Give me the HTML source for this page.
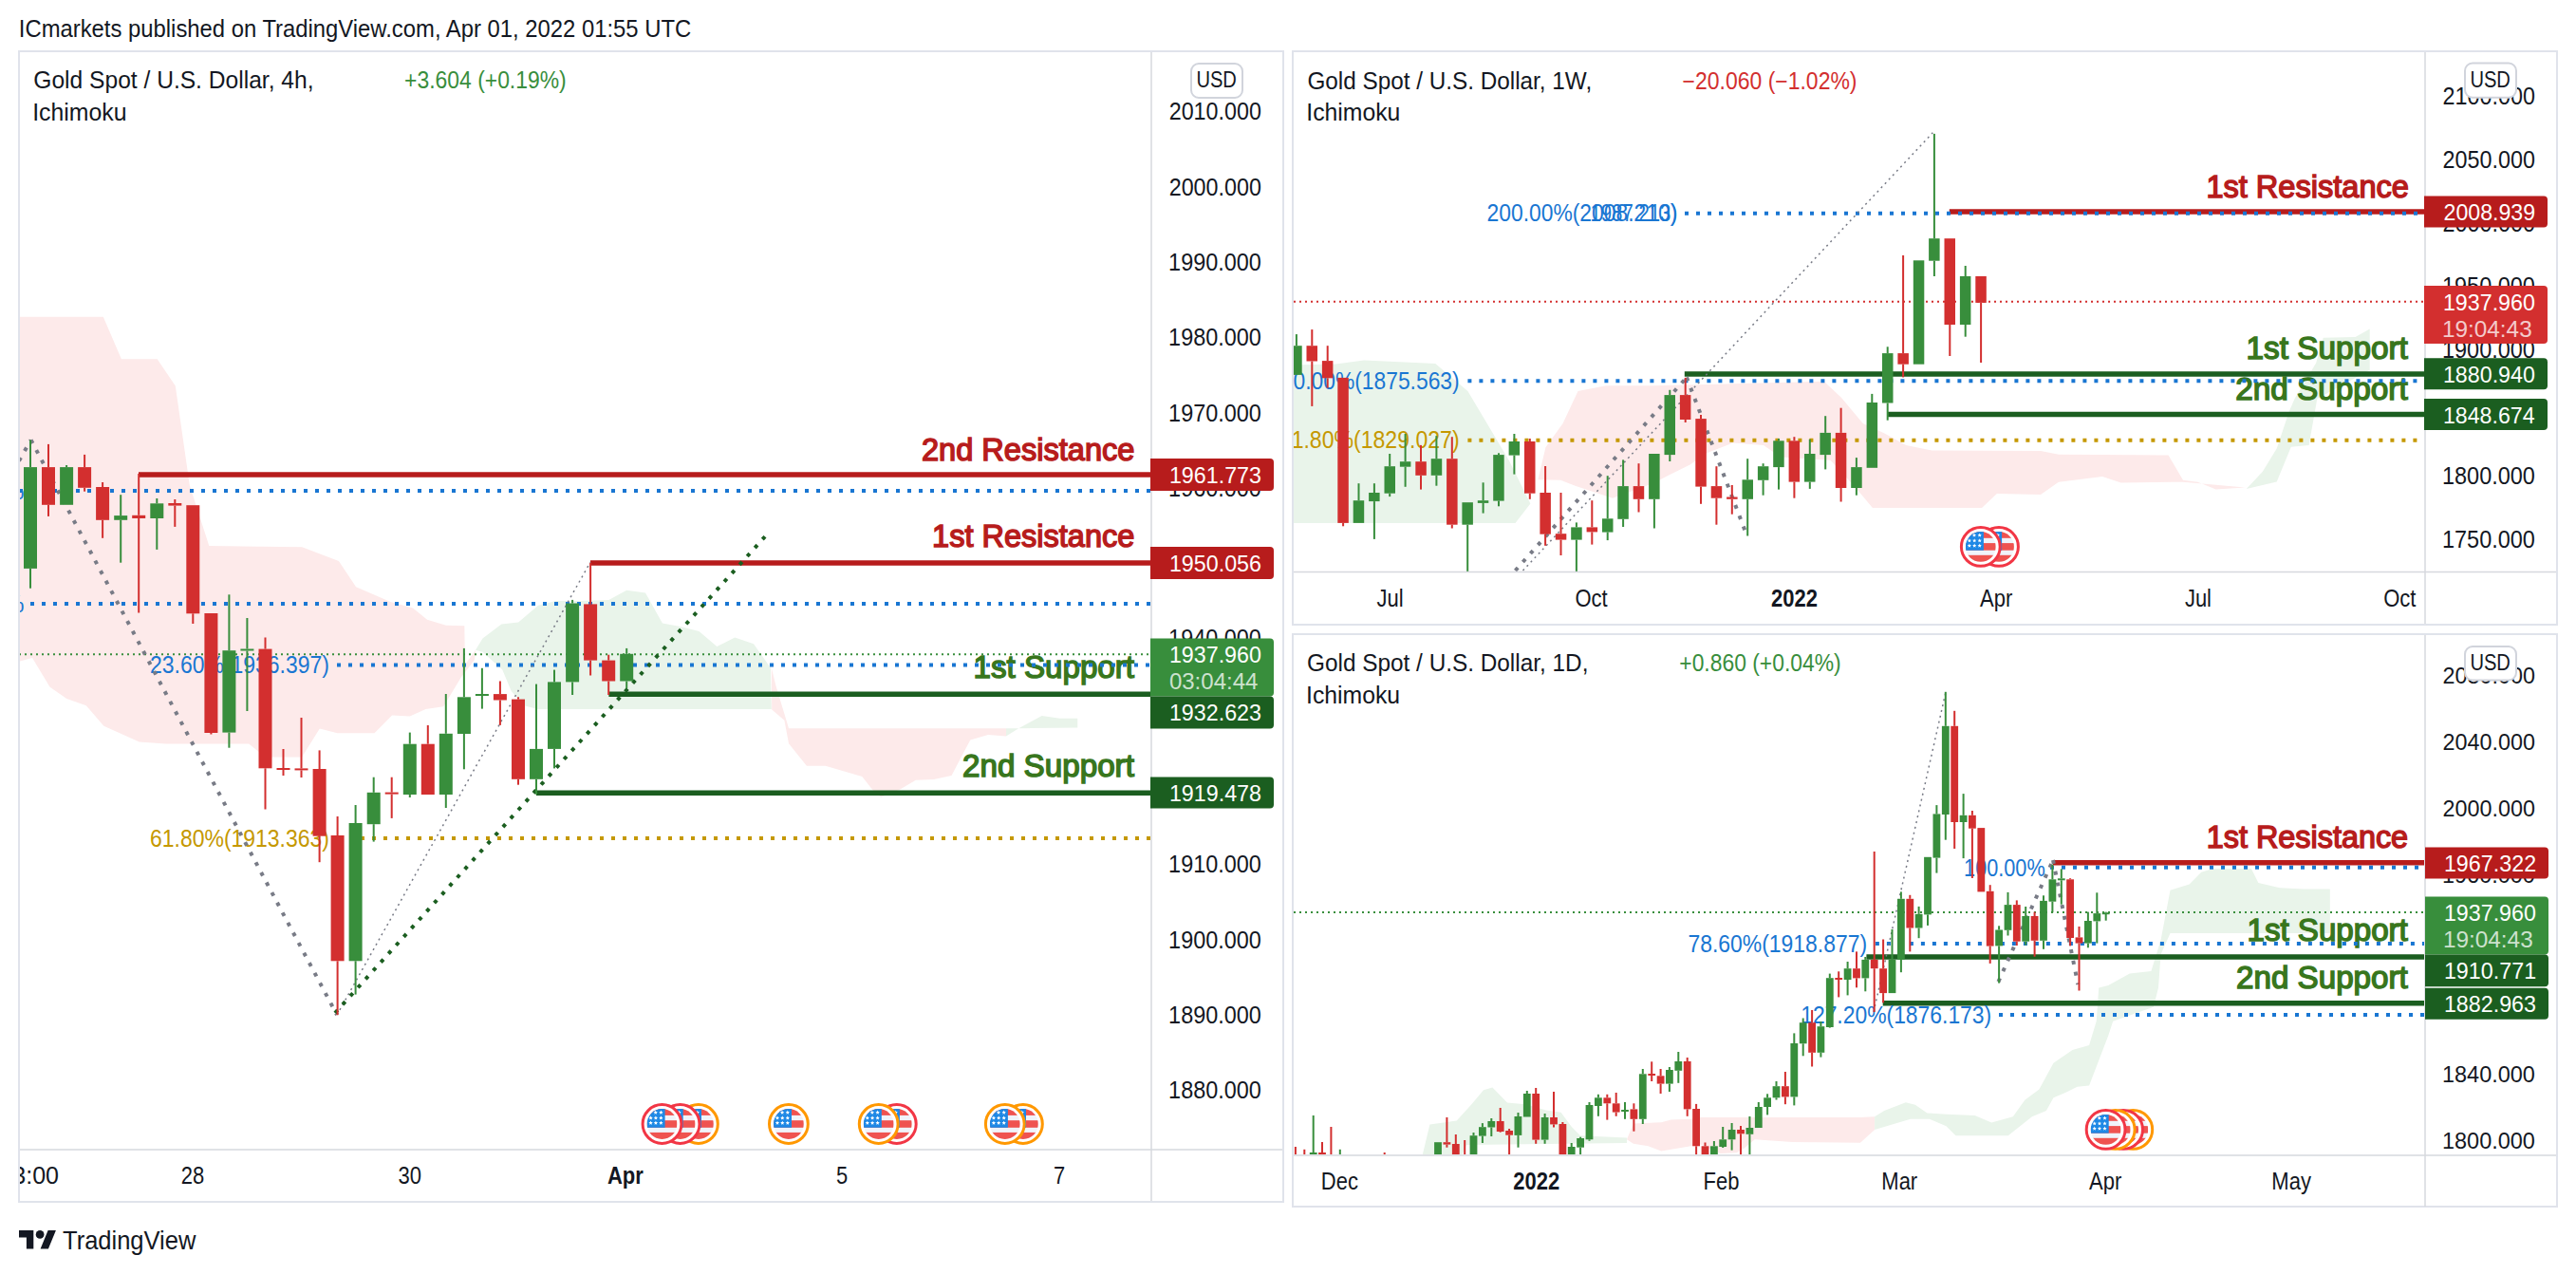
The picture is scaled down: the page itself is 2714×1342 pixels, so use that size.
<!DOCTYPE html>
<html><head><meta charset="utf-8"><style>
html,body{margin:0;padding:0;background:#fff;width:2714px;height:1342px;overflow:hidden}
svg{display:block}
text{font-family:"Liberation Sans", sans-serif}
</style></head><body>
<svg width="2714" height="1342" viewBox="0 0 2714 1342">
<defs>
<clipPath id="cL"><rect x="21" y="55" width="1191" height="1155"/></clipPath>
<clipPath id="cRT"><rect x="1363" y="55" width="1191" height="547"/></clipPath>
<clipPath id="cRB"><rect x="1363" y="669" width="1191" height="547"/></clipPath>
<clipPath id="cLall"><rect x="21" y="55" width="1330" height="1210"/></clipPath>
</defs>
<rect width="2714" height="1342" fill="#fff"/>
<text x="19.8" y="38.8" font-size="25" fill="#131722" textLength="708.4" lengthAdjust="spacingAndGlyphs">ICmarkets published on TradingView.com, Apr 01, 2022 01:55 UTC</text><rect x="20" y="54" width="1332" height="1212" fill="none" stroke="#e0e3eb" stroke-width="2"/><rect x="1362" y="54" width="1332" height="604" fill="none" stroke="#e0e3eb" stroke-width="2"/><rect x="1362" y="668" width="1332" height="603" fill="none" stroke="#e0e3eb" stroke-width="2"/><g clip-path="url(#cL)"><polygon points="20.0,333.7 108.8,333.7 127.9,378.3 165.7,378.3 184.8,406.5 199.8,511.2 220.3,575.0 318.2,576.3 356.9,590.9 375.1,618.2 411.5,634.1 435.0,640.5 450.1,652.8 469.9,658.8 489.3,659.3 490.0,700.0 501.0,684.8 500.0,694.9 485.8,713.5 467.2,744.3 448.5,747.1 431.8,754.5 413.1,753.6 394.5,772.2 355.4,772.2 336.8,767.6 318.1,797.4 280.9,797.4 271.5,790.9 262.2,783.4 174.7,783.4 146.7,781.5 109.4,764.8 90.8,743.3 70.3,735.9 52.6,723.8 34.0,693.0 20.0,696.8" fill="#fdeaea"/><polygon points="489.3,659.3 501.0,684.8 508.5,672.5 528.3,657.5 546.2,655.6 567.0,637.7 585.8,633.0 608.4,633.0 641.4,632.0 660.2,621.7 680.0,624.5 697.9,656.5 716.7,660.0 736.5,665.0 755.3,681.0 774.2,671.6 794.0,678.2 811.9,703.6 812.8,747.0 567.0,747.0 551.9,743.2 538.7,728.1 529.3,705.5 508.5,686.7 501.0,684.8" fill="#e9f4ea"/><polygon points="812.8,703.6 817.5,722.5 831.0,767.2 1060.0,767.2 1060.0,775.6 1041.1,774.1 1022.3,779.4 1002.5,817.0 983.7,820.9 964.8,821.8 948.8,831.2 928.1,839.7 918.7,831.2 908.3,818.0 869.7,806.7 849.9,806.7 831.0,783.2 826.4,758.7 813.2,747.4" fill="#fdeaea"/><polygon points="1060.0,775.6 1073.2,767.2 1097.7,754.0 1116.5,756.8 1135.3,756.8 1135.3,766.6 1060.0,767.2" fill="#e9f4ea"/><line x1="146.0" y1="500.0" x2="1212.0" y2="500.0" stroke="#b71c1c" stroke-width="5.5" stroke-linecap="butt"/><line x1="622.0" y1="592.9" x2="1212.0" y2="592.9" stroke="#b71c1c" stroke-width="5.5" stroke-linecap="butt"/><line x1="641.4" y1="731.2" x2="1212.0" y2="731.2" stroke="#1b5e20" stroke-width="5.5" stroke-linecap="butt"/><line x1="565.0" y1="835.2" x2="1212.0" y2="835.2" stroke="#1b5e20" stroke-width="5.5" stroke-linecap="butt"/><text x="970.9" y="484.6" font-size="32.7" fill="#b71c1c" textLength="224.6" lengthAdjust="spacingAndGlyphs" stroke="#b71c1c" stroke-width="1.5">2nd Resistance</text><text x="982.1" y="576.3" font-size="32.7" fill="#b71c1c" textLength="213.3" lengthAdjust="spacingAndGlyphs" stroke="#b71c1c" stroke-width="1.5">1st Resistance</text><text x="1025.5" y="713.9" font-size="32.7" fill="#38761d" textLength="169.5" lengthAdjust="spacingAndGlyphs" stroke="#38761d" stroke-width="1.5">1st Support</text><text x="1014.0" y="817.5" font-size="32.7" fill="#38761d" textLength="180.9" lengthAdjust="spacingAndGlyphs" stroke="#38761d" stroke-width="1.5">2nd Support</text><line x1="20.0" y1="517.0" x2="1212.0" y2="517.0" stroke="#1976d2" stroke-width="4" stroke-linecap="butt" stroke-dasharray="4 8"/><line x1="32.0" y1="636.0" x2="1212.0" y2="636.0" stroke="#1976d2" stroke-width="4" stroke-linecap="butt" stroke-dasharray="4 8"/><line x1="355.0" y1="700.5" x2="1212.0" y2="700.5" stroke="#1976d2" stroke-width="4" stroke-linecap="butt" stroke-dasharray="4 8"/><line x1="380.0" y1="883.0" x2="1212.0" y2="883.0" stroke="#c59800" stroke-width="4" stroke-linecap="butt" stroke-dasharray="4 8"/><line x1="20.0" y1="689.2" x2="1212.0" y2="689.2" stroke="#388e3c" stroke-width="2" stroke-linecap="butt" stroke-dasharray="2 4"/><text x="25.5" y="525.5" font-size="25" fill="#1976d2" text-anchor="end">0.00%</text><text x="25.5" y="644.5" font-size="25" fill="#1976d2" text-anchor="end">0.00%</text><text x="158.1" y="709.4" font-size="25" fill="#1976d2" textLength="188.8" lengthAdjust="spacingAndGlyphs">23.60%(1936.397)</text><text x="158.1" y="891.9" font-size="25" fill="#c59800" textLength="188.8" lengthAdjust="spacingAndGlyphs">61.80%(1913.363)</text><line x1="20.0" y1="485.5" x2="32.6" y2="463.5" stroke="#787b86" stroke-width="4" stroke-linecap="butt" stroke-dasharray="4 8"/><line x1="32.6" y1="463.5" x2="355.0" y2="1069.0" stroke="#787b86" stroke-width="4" stroke-linecap="butt" stroke-dasharray="4 8"/><line x1="355.0" y1="1069.0" x2="622.0" y2="592.0" stroke="#787b86" stroke-width="1.5" stroke-linecap="butt" stroke-dasharray="2 4"/><line x1="353.0" y1="1067.0" x2="808.0" y2="563.0" stroke="#1b5e20" stroke-width="4" stroke-linecap="butt" stroke-dasharray="4 8"/><rect x="31.0" y="463.5" width="2.0" height="28.6" fill="#388e3c"/><rect x="31.0" y="598.9" width="2.0" height="20.8" fill="#388e3c"/><rect x="25.0" y="492.1" width="14.0" height="106.8" fill="#388e3c"/><rect x="50.0" y="467.9" width="2.0" height="24.2" fill="#d32f2f"/><rect x="50.0" y="531.8" width="2.0" height="12.1" fill="#d32f2f"/><rect x="44.0" y="492.1" width="14.0" height="39.7" fill="#d32f2f"/><rect x="69.1" y="490.0" width="2.0" height="2.1" fill="#388e3c"/><rect x="63.1" y="492.1" width="14.0" height="39.7" fill="#388e3c"/><rect x="88.1" y="478.9" width="2.0" height="13.2" fill="#d32f2f"/><rect x="88.1" y="513.8" width="2.0" height="3.9" fill="#d32f2f"/><rect x="82.1" y="492.1" width="14.0" height="21.7" fill="#d32f2f"/><rect x="107.1" y="508.0" width="2.0" height="5.0" fill="#d32f2f"/><rect x="107.1" y="547.8" width="2.0" height="19.0" fill="#d32f2f"/><rect x="101.1" y="513.0" width="14.0" height="34.8" fill="#d32f2f"/><rect x="126.2" y="521.2" width="2.0" height="21.9" fill="#388e3c"/><rect x="126.2" y="547.8" width="2.0" height="44.9" fill="#388e3c"/><rect x="120.2" y="543.1" width="14.0" height="4.7" fill="#388e3c"/><rect x="145.2" y="499.0" width="2.0" height="43.8" fill="#d32f2f"/><rect x="145.2" y="546.0" width="2.0" height="99.5" fill="#d32f2f"/><rect x="139.2" y="542.8" width="14.0" height="3.2" fill="#d32f2f"/><rect x="164.3" y="525.0" width="2.0" height="5.3" fill="#388e3c"/><rect x="164.3" y="546.0" width="2.0" height="32.9" fill="#388e3c"/><rect x="158.3" y="530.3" width="14.0" height="15.7" fill="#388e3c"/><rect x="183.3" y="526.0" width="2.0" height="4.0" fill="#d32f2f"/><rect x="183.3" y="532.6" width="2.0" height="22.3" fill="#d32f2f"/><rect x="177.3" y="530.0" width="14.0" height="2.6" fill="#d32f2f"/><rect x="202.3" y="646.3" width="2.0" height="10.7" fill="#d32f2f"/><rect x="196.3" y="532.2" width="14.0" height="114.1" fill="#d32f2f"/><rect x="221.4" y="772.0" width="2.0" height="1.5" fill="#d32f2f"/><rect x="215.4" y="646.0" width="14.0" height="126.0" fill="#d32f2f"/><rect x="240.4" y="626.3" width="2.0" height="58.9" fill="#388e3c"/><rect x="240.4" y="771.6" width="2.0" height="16.1" fill="#388e3c"/><rect x="234.4" y="685.2" width="14.0" height="86.4" fill="#388e3c"/><rect x="259.4" y="651.0" width="2.0" height="32.5" fill="#388e3c"/><rect x="259.4" y="685.5" width="2.0" height="63.5" fill="#388e3c"/><rect x="253.4" y="683.5" width="14.0" height="2.0" fill="#388e3c"/><rect x="278.5" y="671.5" width="2.0" height="12.1" fill="#d32f2f"/><rect x="278.5" y="809.3" width="2.0" height="43.2" fill="#d32f2f"/><rect x="272.5" y="683.6" width="14.0" height="125.7" fill="#d32f2f"/><rect x="297.5" y="789.0" width="2.0" height="20.0" fill="#d32f2f"/><rect x="297.5" y="811.0" width="2.0" height="6.0" fill="#d32f2f"/><rect x="291.5" y="809.0" width="14.0" height="2.0" fill="#d32f2f"/><rect x="316.5" y="756.0" width="2.0" height="53.4" fill="#d32f2f"/><rect x="316.5" y="811.4" width="2.0" height="7.6" fill="#d32f2f"/><rect x="310.5" y="809.4" width="14.0" height="2.0" fill="#d32f2f"/><rect x="335.6" y="790.4" width="2.0" height="19.6" fill="#d32f2f"/><rect x="335.6" y="880.7" width="2.0" height="27.5" fill="#d32f2f"/><rect x="329.6" y="810.0" width="14.0" height="70.7" fill="#d32f2f"/><rect x="354.6" y="860.0" width="2.0" height="20.0" fill="#d32f2f"/><rect x="354.6" y="1012.3" width="2.0" height="56.9" fill="#d32f2f"/><rect x="348.6" y="880.0" width="14.0" height="132.3" fill="#d32f2f"/><rect x="373.6" y="848.0" width="2.0" height="19.0" fill="#388e3c"/><rect x="373.6" y="1012.3" width="2.0" height="35.3" fill="#388e3c"/><rect x="367.6" y="867.0" width="14.0" height="145.3" fill="#388e3c"/><rect x="392.7" y="818.7" width="2.0" height="16.1" fill="#388e3c"/><rect x="392.7" y="868.2" width="2.0" height="18.4" fill="#388e3c"/><rect x="386.7" y="834.8" width="14.0" height="33.4" fill="#388e3c"/><rect x="411.7" y="818.7" width="2.0" height="15.9" fill="#d32f2f"/><rect x="411.7" y="836.6" width="2.0" height="25.3" fill="#d32f2f"/><rect x="405.7" y="834.6" width="14.0" height="2.0" fill="#d32f2f"/><rect x="430.8" y="771.6" width="2.0" height="12.1" fill="#388e3c"/><rect x="430.8" y="837.0" width="2.0" height="3.0" fill="#388e3c"/><rect x="424.8" y="783.7" width="14.0" height="53.3" fill="#388e3c"/><rect x="449.8" y="764.0" width="2.0" height="19.7" fill="#d32f2f"/><rect x="443.8" y="783.7" width="14.0" height="53.3" fill="#d32f2f"/><rect x="468.8" y="731.0" width="2.0" height="41.8" fill="#388e3c"/><rect x="468.8" y="837.0" width="2.0" height="14.0" fill="#388e3c"/><rect x="462.8" y="772.8" width="14.0" height="64.2" fill="#388e3c"/><rect x="487.9" y="682.9" width="2.0" height="51.4" fill="#388e3c"/><rect x="487.9" y="773.0" width="2.0" height="37.3" fill="#388e3c"/><rect x="481.9" y="734.3" width="14.0" height="38.7" fill="#388e3c"/><rect x="506.9" y="703.8" width="2.0" height="27.2" fill="#388e3c"/><rect x="506.9" y="733.0" width="2.0" height="13.6" fill="#388e3c"/><rect x="500.9" y="731.0" width="14.0" height="2.0" fill="#388e3c"/><rect x="525.9" y="717.5" width="2.0" height="13.6" fill="#d32f2f"/><rect x="525.9" y="737.5" width="2.0" height="26.4" fill="#d32f2f"/><rect x="519.9" y="731.1" width="14.0" height="6.4" fill="#d32f2f"/><rect x="545.0" y="734.3" width="2.0" height="2.3" fill="#d32f2f"/><rect x="545.0" y="820.8" width="2.0" height="5.9" fill="#d32f2f"/><rect x="539.0" y="736.6" width="14.0" height="84.2" fill="#d32f2f"/><rect x="564.0" y="720.6" width="2.0" height="68.3" fill="#388e3c"/><rect x="564.0" y="820.8" width="2.0" height="15.9" fill="#388e3c"/><rect x="558.0" y="788.9" width="14.0" height="31.9" fill="#388e3c"/><rect x="583.0" y="705.6" width="2.0" height="12.8" fill="#388e3c"/><rect x="583.0" y="788.9" width="2.0" height="20.5" fill="#388e3c"/><rect x="577.0" y="718.4" width="14.0" height="70.5" fill="#388e3c"/><rect x="602.1" y="631.9" width="2.0" height="3.6" fill="#388e3c"/><rect x="602.1" y="718.4" width="2.0" height="13.6" fill="#388e3c"/><rect x="596.1" y="635.5" width="14.0" height="82.9" fill="#388e3c"/><rect x="621.1" y="592.9" width="2.0" height="43.5" fill="#d32f2f"/><rect x="621.1" y="695.6" width="2.0" height="15.9" fill="#d32f2f"/><rect x="615.1" y="636.4" width="14.0" height="59.2" fill="#d32f2f"/><rect x="640.2" y="689.7" width="2.0" height="5.9" fill="#d32f2f"/><rect x="640.2" y="717.5" width="2.0" height="14.5" fill="#d32f2f"/><rect x="634.2" y="695.6" width="14.0" height="21.9" fill="#d32f2f"/><rect x="659.2" y="682.9" width="2.0" height="5.9" fill="#388e3c"/><rect x="659.2" y="717.5" width="2.0" height="7.7" fill="#388e3c"/><rect x="653.2" y="688.8" width="14.0" height="28.7" fill="#388e3c"/><g><circle cx="735.9" cy="1184" r="20.4" fill="#fff" stroke="#ff9800" stroke-width="3"/><clipPath id="fc7359_11840"><circle cx="735.9" cy="1184" r="15.9"/></clipPath><g clip-path="url(#fc7359_11840)"><rect x="719.9" y="1167.8" width="32" height="32.4" fill="#f0f3fa"/><rect x="719.9" y="1167.8" width="32" height="7.1" fill="#ef5350"/><rect x="719.9" y="1180.2" width="32" height="7.6" fill="#ef5350"/><rect x="719.9" y="1192.9" width="32" height="7.3" fill="#ef5350"/><rect x="719.9" y="1167.8" width="19.1" height="20" fill="#1e88e5"/></g><polygon points="729.10,1169.60 729.71,1171.06 731.29,1171.19 730.08,1172.22 730.45,1173.76 729.10,1172.94 727.75,1173.76 728.12,1172.22 726.91,1171.19 728.49,1171.06" fill="#fff"/><polygon points="734.80,1169.60 735.41,1171.06 736.99,1171.19 735.78,1172.22 736.15,1173.76 734.80,1172.94 733.45,1173.76 733.82,1172.22 732.61,1171.19 734.19,1171.06" fill="#fff"/><polygon points="724.00,1175.30 724.61,1176.76 726.19,1176.89 724.98,1177.92 725.35,1179.46 724.00,1178.63 722.65,1179.46 723.02,1177.92 721.81,1176.89 723.39,1176.76" fill="#fff"/><polygon points="729.30,1175.30 729.91,1176.76 731.49,1176.89 730.28,1177.92 730.65,1179.46 729.30,1178.63 727.95,1179.46 728.32,1177.92 727.11,1176.89 728.69,1176.76" fill="#fff"/><polygon points="734.80,1175.30 735.41,1176.76 736.99,1176.89 735.78,1177.92 736.15,1179.46 734.80,1178.63 733.45,1179.46 733.82,1177.92 732.61,1176.89 734.19,1176.76" fill="#fff"/><polygon points="724.00,1180.60 724.61,1182.06 726.19,1182.19 724.98,1183.22 725.35,1184.76 724.00,1183.94 722.65,1184.76 723.02,1183.22 721.81,1182.19 723.39,1182.06" fill="#fff"/><polygon points="729.30,1180.60 729.91,1182.06 731.49,1182.19 730.28,1183.22 730.65,1184.76 729.30,1183.94 727.95,1184.76 728.32,1183.22 727.11,1182.19 728.69,1182.06" fill="#fff"/><polygon points="734.80,1180.60 735.41,1182.06 736.99,1182.19 735.78,1183.22 736.15,1184.76 734.80,1183.94 733.45,1184.76 733.82,1183.22 732.61,1182.19 734.19,1182.06" fill="#fff"/></g><g><circle cx="716.6" cy="1184" r="20.4" fill="#fff" stroke="#f23645" stroke-width="3"/><clipPath id="fc7166_11840"><circle cx="716.6" cy="1184" r="15.9"/></clipPath><g clip-path="url(#fc7166_11840)"><rect x="700.6" y="1167.8" width="32" height="32.4" fill="#f0f3fa"/><rect x="700.6" y="1167.8" width="32" height="7.1" fill="#ef5350"/><rect x="700.6" y="1180.2" width="32" height="7.6" fill="#ef5350"/><rect x="700.6" y="1192.9" width="32" height="7.3" fill="#ef5350"/><rect x="700.6" y="1167.8" width="19.1" height="20" fill="#1e88e5"/></g><polygon points="709.80,1169.60 710.41,1171.06 711.99,1171.19 710.78,1172.22 711.15,1173.76 709.80,1172.94 708.45,1173.76 708.82,1172.22 707.61,1171.19 709.19,1171.06" fill="#fff"/><polygon points="715.50,1169.60 716.11,1171.06 717.69,1171.19 716.48,1172.22 716.85,1173.76 715.50,1172.94 714.15,1173.76 714.52,1172.22 713.31,1171.19 714.89,1171.06" fill="#fff"/><polygon points="704.70,1175.30 705.31,1176.76 706.89,1176.89 705.68,1177.92 706.05,1179.46 704.70,1178.63 703.35,1179.46 703.72,1177.92 702.51,1176.89 704.09,1176.76" fill="#fff"/><polygon points="710.00,1175.30 710.61,1176.76 712.19,1176.89 710.98,1177.92 711.35,1179.46 710.00,1178.63 708.65,1179.46 709.02,1177.92 707.81,1176.89 709.39,1176.76" fill="#fff"/><polygon points="715.50,1175.30 716.11,1176.76 717.69,1176.89 716.48,1177.92 716.85,1179.46 715.50,1178.63 714.15,1179.46 714.52,1177.92 713.31,1176.89 714.89,1176.76" fill="#fff"/><polygon points="704.70,1180.60 705.31,1182.06 706.89,1182.19 705.68,1183.22 706.05,1184.76 704.70,1183.94 703.35,1184.76 703.72,1183.22 702.51,1182.19 704.09,1182.06" fill="#fff"/><polygon points="710.00,1180.60 710.61,1182.06 712.19,1182.19 710.98,1183.22 711.35,1184.76 710.00,1183.94 708.65,1184.76 709.02,1183.22 707.81,1182.19 709.39,1182.06" fill="#fff"/><polygon points="715.50,1180.60 716.11,1182.06 717.69,1182.19 716.48,1183.22 716.85,1184.76 715.50,1183.94 714.15,1184.76 714.52,1183.22 713.31,1182.19 714.89,1182.06" fill="#fff"/></g><g><circle cx="697.5" cy="1184" r="20.4" fill="#fff" stroke="#f23645" stroke-width="3"/><clipPath id="fc6975_11840"><circle cx="697.5" cy="1184" r="15.9"/></clipPath><g clip-path="url(#fc6975_11840)"><rect x="681.5" y="1167.8" width="32" height="32.4" fill="#f0f3fa"/><rect x="681.5" y="1167.8" width="32" height="7.1" fill="#ef5350"/><rect x="681.5" y="1180.2" width="32" height="7.6" fill="#ef5350"/><rect x="681.5" y="1192.9" width="32" height="7.3" fill="#ef5350"/><rect x="681.5" y="1167.8" width="19.1" height="20" fill="#1e88e5"/></g><polygon points="690.70,1169.60 691.31,1171.06 692.89,1171.19 691.68,1172.22 692.05,1173.76 690.70,1172.94 689.35,1173.76 689.72,1172.22 688.51,1171.19 690.09,1171.06" fill="#fff"/><polygon points="696.40,1169.60 697.01,1171.06 698.59,1171.19 697.38,1172.22 697.75,1173.76 696.40,1172.94 695.05,1173.76 695.42,1172.22 694.21,1171.19 695.79,1171.06" fill="#fff"/><polygon points="685.60,1175.30 686.21,1176.76 687.79,1176.89 686.58,1177.92 686.95,1179.46 685.60,1178.63 684.25,1179.46 684.62,1177.92 683.41,1176.89 684.99,1176.76" fill="#fff"/><polygon points="690.90,1175.30 691.51,1176.76 693.09,1176.89 691.88,1177.92 692.25,1179.46 690.90,1178.63 689.55,1179.46 689.92,1177.92 688.71,1176.89 690.29,1176.76" fill="#fff"/><polygon points="696.40,1175.30 697.01,1176.76 698.59,1176.89 697.38,1177.92 697.75,1179.46 696.40,1178.63 695.05,1179.46 695.42,1177.92 694.21,1176.89 695.79,1176.76" fill="#fff"/><polygon points="685.60,1180.60 686.21,1182.06 687.79,1182.19 686.58,1183.22 686.95,1184.76 685.60,1183.94 684.25,1184.76 684.62,1183.22 683.41,1182.19 684.99,1182.06" fill="#fff"/><polygon points="690.90,1180.60 691.51,1182.06 693.09,1182.19 691.88,1183.22 692.25,1184.76 690.90,1183.94 689.55,1184.76 689.92,1183.22 688.71,1182.19 690.29,1182.06" fill="#fff"/><polygon points="696.40,1180.60 697.01,1182.06 698.59,1182.19 697.38,1183.22 697.75,1184.76 696.40,1183.94 695.05,1184.76 695.42,1183.22 694.21,1182.19 695.79,1182.06" fill="#fff"/></g><g><circle cx="830.9" cy="1184" r="20.4" fill="#fff" stroke="#ff9800" stroke-width="3"/><clipPath id="fc8309_11840"><circle cx="830.9" cy="1184" r="15.9"/></clipPath><g clip-path="url(#fc8309_11840)"><rect x="814.9" y="1167.8" width="32" height="32.4" fill="#f0f3fa"/><rect x="814.9" y="1167.8" width="32" height="7.1" fill="#ef5350"/><rect x="814.9" y="1180.2" width="32" height="7.6" fill="#ef5350"/><rect x="814.9" y="1192.9" width="32" height="7.3" fill="#ef5350"/><rect x="814.9" y="1167.8" width="19.1" height="20" fill="#1e88e5"/></g><polygon points="824.10,1169.60 824.71,1171.06 826.29,1171.19 825.08,1172.22 825.45,1173.76 824.10,1172.94 822.75,1173.76 823.12,1172.22 821.91,1171.19 823.49,1171.06" fill="#fff"/><polygon points="829.80,1169.60 830.41,1171.06 831.99,1171.19 830.78,1172.22 831.15,1173.76 829.80,1172.94 828.45,1173.76 828.82,1172.22 827.61,1171.19 829.19,1171.06" fill="#fff"/><polygon points="819.00,1175.30 819.61,1176.76 821.19,1176.89 819.98,1177.92 820.35,1179.46 819.00,1178.63 817.65,1179.46 818.02,1177.92 816.81,1176.89 818.39,1176.76" fill="#fff"/><polygon points="824.30,1175.30 824.91,1176.76 826.49,1176.89 825.28,1177.92 825.65,1179.46 824.30,1178.63 822.95,1179.46 823.32,1177.92 822.11,1176.89 823.69,1176.76" fill="#fff"/><polygon points="829.80,1175.30 830.41,1176.76 831.99,1176.89 830.78,1177.92 831.15,1179.46 829.80,1178.63 828.45,1179.46 828.82,1177.92 827.61,1176.89 829.19,1176.76" fill="#fff"/><polygon points="819.00,1180.60 819.61,1182.06 821.19,1182.19 819.98,1183.22 820.35,1184.76 819.00,1183.94 817.65,1184.76 818.02,1183.22 816.81,1182.19 818.39,1182.06" fill="#fff"/><polygon points="824.30,1180.60 824.91,1182.06 826.49,1182.19 825.28,1183.22 825.65,1184.76 824.30,1183.94 822.95,1184.76 823.32,1183.22 822.11,1182.19 823.69,1182.06" fill="#fff"/><polygon points="829.80,1180.60 830.41,1182.06 831.99,1182.19 830.78,1183.22 831.15,1184.76 829.80,1183.94 828.45,1184.76 828.82,1183.22 827.61,1182.19 829.19,1182.06" fill="#fff"/></g><g><circle cx="944.8" cy="1184" r="20.4" fill="#fff" stroke="#f23645" stroke-width="3"/><clipPath id="fc9448_11840"><circle cx="944.8" cy="1184" r="15.9"/></clipPath><g clip-path="url(#fc9448_11840)"><rect x="928.8" y="1167.8" width="32" height="32.4" fill="#f0f3fa"/><rect x="928.8" y="1167.8" width="32" height="7.1" fill="#ef5350"/><rect x="928.8" y="1180.2" width="32" height="7.6" fill="#ef5350"/><rect x="928.8" y="1192.9" width="32" height="7.3" fill="#ef5350"/><rect x="928.8" y="1167.8" width="19.1" height="20" fill="#1e88e5"/></g><polygon points="938.00,1169.60 938.61,1171.06 940.19,1171.19 938.98,1172.22 939.35,1173.76 938.00,1172.94 936.65,1173.76 937.02,1172.22 935.81,1171.19 937.39,1171.06" fill="#fff"/><polygon points="943.70,1169.60 944.31,1171.06 945.89,1171.19 944.68,1172.22 945.05,1173.76 943.70,1172.94 942.35,1173.76 942.72,1172.22 941.51,1171.19 943.09,1171.06" fill="#fff"/><polygon points="932.90,1175.30 933.51,1176.76 935.09,1176.89 933.88,1177.92 934.25,1179.46 932.90,1178.63 931.55,1179.46 931.92,1177.92 930.71,1176.89 932.29,1176.76" fill="#fff"/><polygon points="938.20,1175.30 938.81,1176.76 940.39,1176.89 939.18,1177.92 939.55,1179.46 938.20,1178.63 936.85,1179.46 937.22,1177.92 936.01,1176.89 937.59,1176.76" fill="#fff"/><polygon points="943.70,1175.30 944.31,1176.76 945.89,1176.89 944.68,1177.92 945.05,1179.46 943.70,1178.63 942.35,1179.46 942.72,1177.92 941.51,1176.89 943.09,1176.76" fill="#fff"/><polygon points="932.90,1180.60 933.51,1182.06 935.09,1182.19 933.88,1183.22 934.25,1184.76 932.90,1183.94 931.55,1184.76 931.92,1183.22 930.71,1182.19 932.29,1182.06" fill="#fff"/><polygon points="938.20,1180.60 938.81,1182.06 940.39,1182.19 939.18,1183.22 939.55,1184.76 938.20,1183.94 936.85,1184.76 937.22,1183.22 936.01,1182.19 937.59,1182.06" fill="#fff"/><polygon points="943.70,1180.60 944.31,1182.06 945.89,1182.19 944.68,1183.22 945.05,1184.76 943.70,1183.94 942.35,1184.76 942.72,1183.22 941.51,1182.19 943.09,1182.06" fill="#fff"/></g><g><circle cx="925.7" cy="1184" r="20.4" fill="#fff" stroke="#ff9800" stroke-width="3"/><clipPath id="fc9257_11840"><circle cx="925.7" cy="1184" r="15.9"/></clipPath><g clip-path="url(#fc9257_11840)"><rect x="909.7" y="1167.8" width="32" height="32.4" fill="#f0f3fa"/><rect x="909.7" y="1167.8" width="32" height="7.1" fill="#ef5350"/><rect x="909.7" y="1180.2" width="32" height="7.6" fill="#ef5350"/><rect x="909.7" y="1192.9" width="32" height="7.3" fill="#ef5350"/><rect x="909.7" y="1167.8" width="19.1" height="20" fill="#1e88e5"/></g><polygon points="918.90,1169.60 919.51,1171.06 921.09,1171.19 919.88,1172.22 920.25,1173.76 918.90,1172.94 917.55,1173.76 917.92,1172.22 916.71,1171.19 918.29,1171.06" fill="#fff"/><polygon points="924.60,1169.60 925.21,1171.06 926.79,1171.19 925.58,1172.22 925.95,1173.76 924.60,1172.94 923.25,1173.76 923.62,1172.22 922.41,1171.19 923.99,1171.06" fill="#fff"/><polygon points="913.80,1175.30 914.41,1176.76 915.99,1176.89 914.78,1177.92 915.15,1179.46 913.80,1178.63 912.45,1179.46 912.82,1177.92 911.61,1176.89 913.19,1176.76" fill="#fff"/><polygon points="919.10,1175.30 919.71,1176.76 921.29,1176.89 920.08,1177.92 920.45,1179.46 919.10,1178.63 917.75,1179.46 918.12,1177.92 916.91,1176.89 918.49,1176.76" fill="#fff"/><polygon points="924.60,1175.30 925.21,1176.76 926.79,1176.89 925.58,1177.92 925.95,1179.46 924.60,1178.63 923.25,1179.46 923.62,1177.92 922.41,1176.89 923.99,1176.76" fill="#fff"/><polygon points="913.80,1180.60 914.41,1182.06 915.99,1182.19 914.78,1183.22 915.15,1184.76 913.80,1183.94 912.45,1184.76 912.82,1183.22 911.61,1182.19 913.19,1182.06" fill="#fff"/><polygon points="919.10,1180.60 919.71,1182.06 921.29,1182.19 920.08,1183.22 920.45,1184.76 919.10,1183.94 917.75,1184.76 918.12,1183.22 916.91,1182.19 918.49,1182.06" fill="#fff"/><polygon points="924.60,1180.60 925.21,1182.06 926.79,1182.19 925.58,1183.22 925.95,1184.76 924.60,1183.94 923.25,1184.76 923.62,1183.22 922.41,1182.19 923.99,1182.06" fill="#fff"/></g><g><circle cx="1077.9" cy="1184" r="20.4" fill="#fff" stroke="#ff9800" stroke-width="3"/><clipPath id="fc10779_11840"><circle cx="1077.9" cy="1184" r="15.9"/></clipPath><g clip-path="url(#fc10779_11840)"><rect x="1061.9" y="1167.8" width="32" height="32.4" fill="#f0f3fa"/><rect x="1061.9" y="1167.8" width="32" height="7.1" fill="#ef5350"/><rect x="1061.9" y="1180.2" width="32" height="7.6" fill="#ef5350"/><rect x="1061.9" y="1192.9" width="32" height="7.3" fill="#ef5350"/><rect x="1061.9" y="1167.8" width="19.1" height="20" fill="#1e88e5"/></g><polygon points="1071.10,1169.60 1071.71,1171.06 1073.29,1171.19 1072.08,1172.22 1072.45,1173.76 1071.10,1172.94 1069.75,1173.76 1070.12,1172.22 1068.91,1171.19 1070.49,1171.06" fill="#fff"/><polygon points="1076.80,1169.60 1077.41,1171.06 1078.99,1171.19 1077.78,1172.22 1078.15,1173.76 1076.80,1172.94 1075.45,1173.76 1075.82,1172.22 1074.61,1171.19 1076.19,1171.06" fill="#fff"/><polygon points="1066.00,1175.30 1066.61,1176.76 1068.19,1176.89 1066.98,1177.92 1067.35,1179.46 1066.00,1178.63 1064.65,1179.46 1065.02,1177.92 1063.81,1176.89 1065.39,1176.76" fill="#fff"/><polygon points="1071.30,1175.30 1071.91,1176.76 1073.49,1176.89 1072.28,1177.92 1072.65,1179.46 1071.30,1178.63 1069.95,1179.46 1070.32,1177.92 1069.11,1176.89 1070.69,1176.76" fill="#fff"/><polygon points="1076.80,1175.30 1077.41,1176.76 1078.99,1176.89 1077.78,1177.92 1078.15,1179.46 1076.80,1178.63 1075.45,1179.46 1075.82,1177.92 1074.61,1176.89 1076.19,1176.76" fill="#fff"/><polygon points="1066.00,1180.60 1066.61,1182.06 1068.19,1182.19 1066.98,1183.22 1067.35,1184.76 1066.00,1183.94 1064.65,1184.76 1065.02,1183.22 1063.81,1182.19 1065.39,1182.06" fill="#fff"/><polygon points="1071.30,1180.60 1071.91,1182.06 1073.49,1182.19 1072.28,1183.22 1072.65,1184.76 1071.30,1183.94 1069.95,1184.76 1070.32,1183.22 1069.11,1182.19 1070.69,1182.06" fill="#fff"/><polygon points="1076.80,1180.60 1077.41,1182.06 1078.99,1182.19 1077.78,1183.22 1078.15,1184.76 1076.80,1183.94 1075.45,1184.76 1075.82,1183.22 1074.61,1182.19 1076.19,1182.06" fill="#fff"/></g><g><circle cx="1058.8" cy="1184" r="20.4" fill="#fff" stroke="#ff9800" stroke-width="3"/><clipPath id="fc10588_11840"><circle cx="1058.8" cy="1184" r="15.9"/></clipPath><g clip-path="url(#fc10588_11840)"><rect x="1042.8" y="1167.8" width="32" height="32.4" fill="#f0f3fa"/><rect x="1042.8" y="1167.8" width="32" height="7.1" fill="#ef5350"/><rect x="1042.8" y="1180.2" width="32" height="7.6" fill="#ef5350"/><rect x="1042.8" y="1192.9" width="32" height="7.3" fill="#ef5350"/><rect x="1042.8" y="1167.8" width="19.1" height="20" fill="#1e88e5"/></g><polygon points="1052.00,1169.60 1052.61,1171.06 1054.19,1171.19 1052.98,1172.22 1053.35,1173.76 1052.00,1172.94 1050.65,1173.76 1051.02,1172.22 1049.81,1171.19 1051.39,1171.06" fill="#fff"/><polygon points="1057.70,1169.60 1058.31,1171.06 1059.89,1171.19 1058.68,1172.22 1059.05,1173.76 1057.70,1172.94 1056.35,1173.76 1056.72,1172.22 1055.51,1171.19 1057.09,1171.06" fill="#fff"/><polygon points="1046.90,1175.30 1047.51,1176.76 1049.09,1176.89 1047.88,1177.92 1048.25,1179.46 1046.90,1178.63 1045.55,1179.46 1045.92,1177.92 1044.71,1176.89 1046.29,1176.76" fill="#fff"/><polygon points="1052.20,1175.30 1052.81,1176.76 1054.39,1176.89 1053.18,1177.92 1053.55,1179.46 1052.20,1178.63 1050.85,1179.46 1051.22,1177.92 1050.01,1176.89 1051.59,1176.76" fill="#fff"/><polygon points="1057.70,1175.30 1058.31,1176.76 1059.89,1176.89 1058.68,1177.92 1059.05,1179.46 1057.70,1178.63 1056.35,1179.46 1056.72,1177.92 1055.51,1176.89 1057.09,1176.76" fill="#fff"/><polygon points="1046.90,1180.60 1047.51,1182.06 1049.09,1182.19 1047.88,1183.22 1048.25,1184.76 1046.90,1183.94 1045.55,1184.76 1045.92,1183.22 1044.71,1182.19 1046.29,1182.06" fill="#fff"/><polygon points="1052.20,1180.60 1052.81,1182.06 1054.39,1182.19 1053.18,1183.22 1053.55,1184.76 1052.20,1183.94 1050.85,1184.76 1051.22,1183.22 1050.01,1182.19 1051.59,1182.06" fill="#fff"/><polygon points="1057.70,1180.60 1058.31,1182.06 1059.89,1182.19 1058.68,1183.22 1059.05,1184.76 1057.70,1183.94 1056.35,1184.76 1056.72,1183.22 1055.51,1182.19 1057.09,1182.06" fill="#fff"/></g></g><line x1="1213.0" y1="55.0" x2="1213.0" y2="1265.0" stroke="#d6d8de" stroke-width="1.5" stroke-linecap="butt"/><line x1="21.0" y1="1211.0" x2="1351.0" y2="1211.0" stroke="#d6d8de" stroke-width="1.5" stroke-linecap="butt"/><text x="1231.7" y="126.3" font-size="25" fill="#131722" textLength="97.2" lengthAdjust="spacingAndGlyphs">2010.000</text><text x="1231.7" y="205.6" font-size="25" fill="#131722" textLength="97.2" lengthAdjust="spacingAndGlyphs">2000.000</text><text x="1231.1" y="284.9" font-size="25" fill="#131722" textLength="97.8" lengthAdjust="spacingAndGlyphs">1990.000</text><text x="1231.1" y="364.2" font-size="25" fill="#131722" textLength="97.8" lengthAdjust="spacingAndGlyphs">1980.000</text><text x="1231.1" y="443.5" font-size="25" fill="#131722" textLength="97.8" lengthAdjust="spacingAndGlyphs">1970.000</text><text x="1231.1" y="522.8" font-size="25" fill="#131722" textLength="97.8" lengthAdjust="spacingAndGlyphs">1960.000</text><text x="1231.1" y="681.4" font-size="25" fill="#131722" textLength="97.8" lengthAdjust="spacingAndGlyphs">1940.000</text><text x="1231.1" y="919.3" font-size="25" fill="#131722" textLength="97.8" lengthAdjust="spacingAndGlyphs">1910.000</text><text x="1231.1" y="998.6" font-size="25" fill="#131722" textLength="97.8" lengthAdjust="spacingAndGlyphs">1900.000</text><text x="1231.1" y="1077.9" font-size="25" fill="#131722" textLength="97.8" lengthAdjust="spacingAndGlyphs">1890.000</text><text x="1231.1" y="1157.2" font-size="25" fill="#131722" textLength="97.8" lengthAdjust="spacingAndGlyphs">1880.000</text><rect x="1255" y="67" width="54" height="36" rx="8" fill="#fff" stroke="#d1d4dc" stroke-width="2"/><text x="1260.4" y="92.0" font-size="24.5" fill="#131722" textLength="42.5" lengthAdjust="spacingAndGlyphs">USD</text><path d="M1212,483 h126 a4,4 0 0 1 4,4 v26 a4,4 0 0 1 -4,4 h-126 z" fill="#b71c1c"/><text x="1231.9" y="508.5" font-size="24.5" fill="#ffffff" textLength="97.1" lengthAdjust="spacingAndGlyphs">1961.773</text><path d="M1212,576 h126 a4,4 0 0 1 4,4 v26 a4,4 0 0 1 -4,4 h-126 z" fill="#b71c1c"/><text x="1231.9" y="601.5" font-size="24.5" fill="#ffffff" textLength="97.1" lengthAdjust="spacingAndGlyphs">1950.056</text><path d="M1212,672.4 h126 a4,4 0 0 1 4,4 v53.0 a4,4 0 0 1 -4,4 h-126 z" fill="#388e3c"/><text x="1231.9" y="698.0" font-size="24.5" fill="#ffffff" textLength="97.0" lengthAdjust="spacingAndGlyphs">1937.960</text><text x="1231.9" y="726.0" font-size="24.5" fill="rgba(255,255,255,0.75)" textLength="93.5" lengthAdjust="spacingAndGlyphs">03:04:44</text><path d="M1212,733.4 h126 a4,4 0 0 1 4,4 v26.0 a4,4 0 0 1 -4,4 h-126 z" fill="#1b5e20"/><text x="1231.9" y="758.9" font-size="24.5" fill="#ffffff" textLength="97.1" lengthAdjust="spacingAndGlyphs">1932.623</text><path d="M1212,818.5 h126 a4,4 0 0 1 4,4 v25.0 a4,4 0 0 1 -4,4 h-126 z" fill="#1b5e20"/><text x="1231.9" y="844.0" font-size="24.5" fill="#ffffff" textLength="97.1" lengthAdjust="spacingAndGlyphs">1919.478</text><g clip-path="url(#cLall)"><text x="-0.6" y="1246.8" font-size="25" fill="#131722" textLength="62.6" lengthAdjust="spacingAndGlyphs">13:00</text></g><text x="190.7" y="1246.8" font-size="25" fill="#131722" textLength="24.5" lengthAdjust="spacingAndGlyphs">28</text><text x="419.5" y="1246.8" font-size="25" fill="#131722" textLength="24.5" lengthAdjust="spacingAndGlyphs">30</text><text x="639.9" y="1246.8" font-size="25" fill="#131722" font-weight="bold" textLength="37.9" lengthAdjust="spacingAndGlyphs">Apr</text><text x="880.9" y="1246.8" font-size="25" fill="#131722" textLength="12.2" lengthAdjust="spacingAndGlyphs">5</text><text x="1109.9" y="1246.8" font-size="25" fill="#131722" textLength="12.2" lengthAdjust="spacingAndGlyphs">7</text><text x="35.3" y="93.4" font-size="25" fill="#131722" textLength="295.2" lengthAdjust="spacingAndGlyphs">Gold Spot / U.S. Dollar, 4h,</text><text x="34.2" y="126.9" font-size="25" fill="#131722" textLength="99.3" lengthAdjust="spacingAndGlyphs">Ichimoku</text><text x="426.1" y="93.2" font-size="25" fill="#388e3c" textLength="170.6" lengthAdjust="spacingAndGlyphs">+3.604 (+0.19%)</text><path d="M20,1296 h15.3 v19.4 h-7.4 v-11.8 h-7.9 z" fill="#131722"/><circle cx="42.1" cy="1300.4" r="4.4" fill="#131722"/><path d="M50.6,1296 h8.3 l-8,19.4 h-8.3 z" fill="#131722"/><text x="66.0" y="1316.0" font-size="27.5" fill="#131722" textLength="140.4" lengthAdjust="spacingAndGlyphs">TradingView</text><g clip-path="url(#cRT)"><polygon points="1363.0,384.6 1407.5,383.5 1437.0,379.6 1512.3,383.0 1546.4,412.0 1589.7,484.8 1598.8,503.0 1612.4,530.4 1596.5,550.9 1363.0,550.9" fill="#e9f4ea"/><polygon points="1620.4,505.3 1628.4,471.2 1646.6,446.1 1662.5,412.0 1692.1,406.3 1742.0,406.3 1921.7,401.7 1939.9,418.8 1962.7,446.1 1985.5,456.4 2008.2,468.9 2035.5,474.6 2150.0,475.0 2169.0,478.8 2284.6,479.6 2300.0,505.8 2315.4,507.7 2334.6,515.4 2365.4,513.5 2365.4,513.5 2300.0,507.7 2234.6,508.5 2215.0,501.9 2169.0,507.7 2150.0,521.0 2103.9,520.1 2088.0,534.9 1972.9,534.9 1953.6,512.1 1928.5,484.8 1876.2,481.4 1858.0,468.9 1826.0,466.6 1798.8,476.9 1780.5,489.4 1757.8,500.8 1742.0,509.0 1699.0,524.7 1660.3,512.1 1644.3,505.8" fill="#fdeaea"/><polygon points="2366.7,515.0 2383.7,497.1 2398.7,472.6 2411.9,433.1 2417.6,419.9 2440.2,382.2 2447.7,355.8 2481.6,354.9 2496.7,346.4 2496.7,389.7 2441.3,419.9 2432.6,468.9 2413.8,470.7 2398.7,507.5" fill="#e9f4ea"/><line x1="2053.8" y1="223.0" x2="2555.0" y2="223.0" stroke="#b71c1c" stroke-width="5.5" stroke-linecap="butt"/><line x1="1774.8" y1="394.0" x2="2555.0" y2="394.0" stroke="#1b5e20" stroke-width="5.5" stroke-linecap="butt"/><line x1="1988.2" y1="436.6" x2="2555.0" y2="436.6" stroke="#1b5e20" stroke-width="5.5" stroke-linecap="butt"/><text x="2324.4" y="207.7" font-size="32.7" fill="#b71c1c" textLength="213.5" lengthAdjust="spacingAndGlyphs" stroke="#b71c1c" stroke-width="1.5">1st Resistance</text><text x="2366.5" y="377.7" font-size="32.7" fill="#38761d" textLength="170.3" lengthAdjust="spacingAndGlyphs" stroke="#38761d" stroke-width="1.5">1st Support</text><text x="2355.3" y="421.2" font-size="32.7" fill="#38761d" textLength="181.4" lengthAdjust="spacingAndGlyphs" stroke="#38761d" stroke-width="1.5">2nd Support</text><line x1="1775.0" y1="224.7" x2="2555.0" y2="224.7" stroke="#1976d2" stroke-width="4" stroke-linecap="butt" stroke-dasharray="4 8"/><line x1="1546.4" y1="401.3" x2="2555.0" y2="401.3" stroke="#1976d2" stroke-width="4" stroke-linecap="butt" stroke-dasharray="4 8"/><line x1="1546.4" y1="463.8" x2="2555.0" y2="463.8" stroke="#c59800" stroke-width="4" stroke-linecap="butt" stroke-dasharray="4 8"/><line x1="1363.0" y1="317.8" x2="2555.0" y2="317.8" stroke="#d32f2f" stroke-width="2" stroke-linecap="butt" stroke-dasharray="2 4"/><text x="1566.5" y="233.1" font-size="25" fill="#1976d2" textLength="200.8" lengthAdjust="spacingAndGlyphs">200.00%(2008.210)</text><text x="1675.5" y="233.1" font-size="25" fill="#1976d2" textLength="91.6" lengthAdjust="spacingAndGlyphs">1987.213)</text><text x="1362.6" y="409.8" font-size="25" fill="#1976d2" textLength="175.0" lengthAdjust="spacingAndGlyphs">0.00%(1875.563)</text><text x="1347.8" y="472.3" font-size="25" fill="#c59800" textLength="189.8" lengthAdjust="spacingAndGlyphs">61.80%(1829.027)</text><line x1="1596.5" y1="601.0" x2="1777.0" y2="397.5" stroke="#787b86" stroke-width="4" stroke-linecap="butt" stroke-dasharray="4 8"/><line x1="1777.0" y1="397.5" x2="1840.6" y2="564.5" stroke="#787b86" stroke-width="4" stroke-linecap="butt" stroke-dasharray="4 8"/><line x1="1604.5" y1="601.0" x2="2036.3" y2="139.8" stroke="#787b86" stroke-width="1.5" stroke-linecap="butt" stroke-dasharray="2 4"/><rect x="1364.9" y="352.1" width="2.0" height="12.1" fill="#388e3c"/><rect x="1360.2" y="364.2" width="11.5" height="30.7" fill="#388e3c"/><rect x="1381.3" y="347.1" width="2.0" height="17.1" fill="#d32f2f"/><rect x="1381.3" y="380.5" width="2.0" height="47.4" fill="#d32f2f"/><rect x="1376.5" y="364.2" width="11.5" height="16.3" fill="#d32f2f"/><rect x="1397.7" y="364.2" width="2.0" height="15.9" fill="#d32f2f"/><rect x="1397.7" y="398.3" width="2.0" height="10.3" fill="#d32f2f"/><rect x="1392.9" y="380.1" width="11.5" height="18.2" fill="#d32f2f"/><rect x="1414.1" y="550.9" width="2.0" height="3.4" fill="#d32f2f"/><rect x="1409.3" y="397.9" width="11.5" height="153.0" fill="#d32f2f"/><rect x="1430.5" y="509.2" width="2.0" height="18.0" fill="#388e3c"/><rect x="1425.7" y="527.2" width="11.5" height="23.7" fill="#388e3c"/><rect x="1446.9" y="509.2" width="2.0" height="9.8" fill="#388e3c"/><rect x="1446.9" y="528.1" width="2.0" height="39.8" fill="#388e3c"/><rect x="1442.1" y="519.0" width="11.5" height="9.1" fill="#388e3c"/><rect x="1463.2" y="478.0" width="2.0" height="13.2" fill="#388e3c"/><rect x="1463.2" y="519.7" width="2.0" height="3.4" fill="#388e3c"/><rect x="1458.5" y="491.2" width="11.5" height="28.5" fill="#388e3c"/><rect x="1479.6" y="457.0" width="2.0" height="29.2" fill="#388e3c"/><rect x="1479.6" y="491.7" width="2.0" height="21.1" fill="#388e3c"/><rect x="1474.9" y="486.2" width="11.5" height="5.5" fill="#388e3c"/><rect x="1496.0" y="468.9" width="2.0" height="17.3" fill="#d32f2f"/><rect x="1496.0" y="500.8" width="2.0" height="14.8" fill="#d32f2f"/><rect x="1491.3" y="486.2" width="11.5" height="14.6" fill="#d32f2f"/><rect x="1512.4" y="459.1" width="2.0" height="24.1" fill="#388e3c"/><rect x="1512.4" y="500.8" width="2.0" height="10.9" fill="#388e3c"/><rect x="1507.7" y="483.2" width="11.5" height="17.6" fill="#388e3c"/><rect x="1528.8" y="460.2" width="2.0" height="23.0" fill="#d32f2f"/><rect x="1528.8" y="552.7" width="2.0" height="3.8" fill="#d32f2f"/><rect x="1524.1" y="483.2" width="11.5" height="69.5" fill="#d32f2f"/><rect x="1545.2" y="552.7" width="2.0" height="49.3" fill="#388e3c"/><rect x="1540.4" y="529.2" width="11.5" height="23.5" fill="#388e3c"/><rect x="1561.6" y="508.3" width="2.0" height="18.9" fill="#388e3c"/><rect x="1561.6" y="529.9" width="2.0" height="10.7" fill="#388e3c"/><rect x="1556.8" y="527.2" width="11.5" height="2.7" fill="#388e3c"/><rect x="1578.0" y="477.3" width="2.0" height="1.8" fill="#388e3c"/><rect x="1578.0" y="527.6" width="2.0" height="5.7" fill="#388e3c"/><rect x="1573.2" y="479.1" width="11.5" height="48.5" fill="#388e3c"/><rect x="1594.4" y="457.0" width="2.0" height="8.0" fill="#388e3c"/><rect x="1594.4" y="479.6" width="2.0" height="20.0" fill="#388e3c"/><rect x="1589.6" y="465.0" width="11.5" height="14.6" fill="#388e3c"/><rect x="1610.8" y="462.0" width="2.0" height="3.0" fill="#d32f2f"/><rect x="1610.8" y="519.7" width="2.0" height="6.1" fill="#d32f2f"/><rect x="1606.0" y="465.0" width="11.5" height="54.7" fill="#d32f2f"/><rect x="1627.1" y="491.0" width="2.0" height="28.0" fill="#d32f2f"/><rect x="1627.1" y="562.7" width="2.0" height="12.1" fill="#d32f2f"/><rect x="1622.4" y="519.0" width="11.5" height="43.7" fill="#d32f2f"/><rect x="1643.5" y="519.0" width="2.0" height="43.2" fill="#d32f2f"/><rect x="1643.5" y="568.6" width="2.0" height="16.4" fill="#d32f2f"/><rect x="1638.8" y="562.2" width="11.5" height="6.4" fill="#d32f2f"/><rect x="1659.9" y="550.4" width="2.0" height="5.0" fill="#388e3c"/><rect x="1659.9" y="568.6" width="2.0" height="33.4" fill="#388e3c"/><rect x="1655.2" y="555.4" width="11.5" height="13.2" fill="#388e3c"/><rect x="1676.3" y="527.2" width="2.0" height="28.2" fill="#d32f2f"/><rect x="1676.3" y="560.4" width="2.0" height="13.2" fill="#d32f2f"/><rect x="1671.6" y="555.4" width="11.5" height="5.0" fill="#d32f2f"/><rect x="1692.7" y="501.2" width="2.0" height="45.1" fill="#388e3c"/><rect x="1692.7" y="560.6" width="2.0" height="8.5" fill="#388e3c"/><rect x="1688.0" y="546.3" width="11.5" height="14.3" fill="#388e3c"/><rect x="1709.1" y="484.4" width="2.0" height="27.7" fill="#388e3c"/><rect x="1709.1" y="546.8" width="2.0" height="8.2" fill="#388e3c"/><rect x="1704.3" y="512.1" width="11.5" height="34.7" fill="#388e3c"/><rect x="1725.5" y="488.2" width="2.0" height="23.9" fill="#d32f2f"/><rect x="1725.5" y="525.8" width="2.0" height="13.7" fill="#d32f2f"/><rect x="1720.7" y="512.1" width="11.5" height="13.7" fill="#d32f2f"/><rect x="1741.9" y="525.8" width="2.0" height="30.7" fill="#388e3c"/><rect x="1737.1" y="478.0" width="11.5" height="47.8" fill="#388e3c"/><rect x="1758.3" y="410.8" width="2.0" height="5.3" fill="#388e3c"/><rect x="1758.3" y="479.1" width="2.0" height="6.9" fill="#388e3c"/><rect x="1753.5" y="416.1" width="11.5" height="63.0" fill="#388e3c"/><rect x="1774.7" y="397.9" width="2.0" height="18.2" fill="#d32f2f"/><rect x="1774.7" y="442.0" width="2.0" height="3.0" fill="#d32f2f"/><rect x="1769.9" y="416.1" width="11.5" height="25.9" fill="#d32f2f"/><rect x="1791.0" y="437.0" width="2.0" height="4.1" fill="#d32f2f"/><rect x="1791.0" y="512.6" width="2.0" height="18.2" fill="#d32f2f"/><rect x="1786.3" y="441.1" width="11.5" height="71.5" fill="#d32f2f"/><rect x="1807.4" y="491.2" width="2.0" height="20.9" fill="#d32f2f"/><rect x="1807.4" y="524.7" width="2.0" height="28.0" fill="#d32f2f"/><rect x="1802.7" y="512.1" width="11.5" height="12.6" fill="#d32f2f"/><rect x="1823.8" y="511.0" width="2.0" height="12.5" fill="#d32f2f"/><rect x="1823.8" y="525.8" width="2.0" height="15.9" fill="#d32f2f"/><rect x="1819.1" y="523.5" width="11.5" height="2.3" fill="#d32f2f"/><rect x="1840.2" y="483.2" width="2.0" height="22.1" fill="#388e3c"/><rect x="1840.2" y="525.8" width="2.0" height="38.7" fill="#388e3c"/><rect x="1835.5" y="505.3" width="11.5" height="20.5" fill="#388e3c"/><rect x="1856.6" y="488.2" width="2.0" height="3.0" fill="#388e3c"/><rect x="1856.6" y="505.8" width="2.0" height="15.9" fill="#388e3c"/><rect x="1851.9" y="491.2" width="11.5" height="14.6" fill="#388e3c"/><rect x="1873.0" y="462.0" width="2.0" height="2.3" fill="#388e3c"/><rect x="1873.0" y="492.1" width="2.0" height="23.5" fill="#388e3c"/><rect x="1868.2" y="464.3" width="11.5" height="27.8" fill="#388e3c"/><rect x="1889.4" y="460.2" width="2.0" height="4.1" fill="#d32f2f"/><rect x="1889.4" y="507.6" width="2.0" height="17.1" fill="#d32f2f"/><rect x="1884.6" y="464.3" width="11.5" height="43.3" fill="#d32f2f"/><rect x="1905.8" y="462.7" width="2.0" height="15.3" fill="#388e3c"/><rect x="1905.8" y="507.6" width="2.0" height="7.3" fill="#388e3c"/><rect x="1901.0" y="478.0" width="11.5" height="29.6" fill="#388e3c"/><rect x="1922.2" y="438.2" width="2.0" height="17.7" fill="#388e3c"/><rect x="1922.2" y="479.1" width="2.0" height="15.3" fill="#388e3c"/><rect x="1917.4" y="455.9" width="11.5" height="23.2" fill="#388e3c"/><rect x="1938.6" y="429.7" width="2.0" height="26.2" fill="#d32f2f"/><rect x="1938.6" y="514.0" width="2.0" height="14.5" fill="#d32f2f"/><rect x="1933.8" y="455.9" width="11.5" height="58.1" fill="#d32f2f"/><rect x="1954.9" y="482.1" width="2.0" height="10.0" fill="#388e3c"/><rect x="1954.9" y="514.0" width="2.0" height="7.7" fill="#388e3c"/><rect x="1950.2" y="492.1" width="11.5" height="21.9" fill="#388e3c"/><rect x="1971.3" y="414.9" width="2.0" height="9.1" fill="#388e3c"/><rect x="1966.6" y="424.0" width="11.5" height="68.8" fill="#388e3c"/><rect x="1987.7" y="365.3" width="2.0" height="6.8" fill="#388e3c"/><rect x="1987.7" y="424.5" width="2.0" height="18.2" fill="#388e3c"/><rect x="1983.0" y="372.1" width="11.5" height="52.4" fill="#388e3c"/><rect x="2004.1" y="269.0" width="2.0" height="103.1" fill="#d32f2f"/><rect x="2004.1" y="383.7" width="2.0" height="13.7" fill="#d32f2f"/><rect x="1999.4" y="372.1" width="11.5" height="11.6" fill="#d32f2f"/><rect x="2015.8" y="274.3" width="11.5" height="109.4" fill="#388e3c"/><rect x="2036.9" y="140.9" width="2.0" height="110.3" fill="#388e3c"/><rect x="2036.9" y="274.7" width="2.0" height="16.3" fill="#388e3c"/><rect x="2032.1" y="251.2" width="11.5" height="23.5" fill="#388e3c"/><rect x="2053.3" y="342.0" width="2.0" height="33.0" fill="#d32f2f"/><rect x="2048.5" y="251.2" width="11.5" height="90.8" fill="#d32f2f"/><rect x="2069.7" y="280.0" width="2.0" height="11.0" fill="#388e3c"/><rect x="2069.7" y="342.0" width="2.0" height="12.7" fill="#388e3c"/><rect x="2064.9" y="291.0" width="11.5" height="51.0" fill="#388e3c"/><rect x="2086.1" y="318.9" width="2.0" height="63.1" fill="#d32f2f"/><rect x="2081.3" y="291.0" width="11.5" height="27.9" fill="#d32f2f"/><g><circle cx="2106" cy="575.9" r="20.4" fill="#fff" stroke="#f23645" stroke-width="3"/><clipPath id="fc21060_5759"><circle cx="2106" cy="575.9" r="15.9"/></clipPath><g clip-path="url(#fc21060_5759)"><rect x="2090" y="559.6999999999999" width="32" height="32.4" fill="#f0f3fa"/><rect x="2090" y="559.6999999999999" width="32" height="7.1" fill="#ef5350"/><rect x="2090" y="572.1" width="32" height="7.6" fill="#ef5350"/><rect x="2090" y="584.8" width="32" height="7.3" fill="#ef5350"/><rect x="2090" y="559.6999999999999" width="19.1" height="20" fill="#1e88e5"/></g><polygon points="2099.20,561.50 2099.81,562.96 2101.39,563.09 2100.18,564.12 2100.55,565.66 2099.20,564.83 2097.85,565.66 2098.22,564.12 2097.01,563.09 2098.59,562.96" fill="#fff"/><polygon points="2104.90,561.50 2105.51,562.96 2107.09,563.09 2105.88,564.12 2106.25,565.66 2104.90,564.83 2103.55,565.66 2103.92,564.12 2102.71,563.09 2104.29,562.96" fill="#fff"/><polygon points="2094.10,567.20 2094.71,568.66 2096.29,568.79 2095.08,569.82 2095.45,571.36 2094.10,570.53 2092.75,571.36 2093.12,569.82 2091.91,568.79 2093.49,568.66" fill="#fff"/><polygon points="2099.40,567.20 2100.01,568.66 2101.59,568.79 2100.38,569.82 2100.75,571.36 2099.40,570.53 2098.05,571.36 2098.42,569.82 2097.21,568.79 2098.79,568.66" fill="#fff"/><polygon points="2104.90,567.20 2105.51,568.66 2107.09,568.79 2105.88,569.82 2106.25,571.36 2104.90,570.53 2103.55,571.36 2103.92,569.82 2102.71,568.79 2104.29,568.66" fill="#fff"/><polygon points="2094.10,572.50 2094.71,573.96 2096.29,574.09 2095.08,575.12 2095.45,576.66 2094.10,575.83 2092.75,576.66 2093.12,575.12 2091.91,574.09 2093.49,573.96" fill="#fff"/><polygon points="2099.40,572.50 2100.01,573.96 2101.59,574.09 2100.38,575.12 2100.75,576.66 2099.40,575.83 2098.05,576.66 2098.42,575.12 2097.21,574.09 2098.79,573.96" fill="#fff"/><polygon points="2104.90,572.50 2105.51,573.96 2107.09,574.09 2105.88,575.12 2106.25,576.66 2104.90,575.83 2103.55,576.66 2103.92,575.12 2102.71,574.09 2104.29,573.96" fill="#fff"/></g><g><circle cx="2086.8" cy="575.9" r="20.4" fill="#fff" stroke="#f23645" stroke-width="3"/><clipPath id="fc20868_5759"><circle cx="2086.8" cy="575.9" r="15.9"/></clipPath><g clip-path="url(#fc20868_5759)"><rect x="2070.8" y="559.6999999999999" width="32" height="32.4" fill="#f0f3fa"/><rect x="2070.8" y="559.6999999999999" width="32" height="7.1" fill="#ef5350"/><rect x="2070.8" y="572.1" width="32" height="7.6" fill="#ef5350"/><rect x="2070.8" y="584.8" width="32" height="7.3" fill="#ef5350"/><rect x="2070.8" y="559.6999999999999" width="19.1" height="20" fill="#1e88e5"/></g><polygon points="2080.00,561.50 2080.61,562.96 2082.19,563.09 2080.98,564.12 2081.35,565.66 2080.00,564.83 2078.65,565.66 2079.02,564.12 2077.81,563.09 2079.39,562.96" fill="#fff"/><polygon points="2085.70,561.50 2086.31,562.96 2087.89,563.09 2086.68,564.12 2087.05,565.66 2085.70,564.83 2084.35,565.66 2084.72,564.12 2083.51,563.09 2085.09,562.96" fill="#fff"/><polygon points="2074.90,567.20 2075.51,568.66 2077.09,568.79 2075.88,569.82 2076.25,571.36 2074.90,570.53 2073.55,571.36 2073.92,569.82 2072.71,568.79 2074.29,568.66" fill="#fff"/><polygon points="2080.20,567.20 2080.81,568.66 2082.39,568.79 2081.18,569.82 2081.55,571.36 2080.20,570.53 2078.85,571.36 2079.22,569.82 2078.01,568.79 2079.59,568.66" fill="#fff"/><polygon points="2085.70,567.20 2086.31,568.66 2087.89,568.79 2086.68,569.82 2087.05,571.36 2085.70,570.53 2084.35,571.36 2084.72,569.82 2083.51,568.79 2085.09,568.66" fill="#fff"/><polygon points="2074.90,572.50 2075.51,573.96 2077.09,574.09 2075.88,575.12 2076.25,576.66 2074.90,575.83 2073.55,576.66 2073.92,575.12 2072.71,574.09 2074.29,573.96" fill="#fff"/><polygon points="2080.20,572.50 2080.81,573.96 2082.39,574.09 2081.18,575.12 2081.55,576.66 2080.20,575.83 2078.85,576.66 2079.22,575.12 2078.01,574.09 2079.59,573.96" fill="#fff"/><polygon points="2085.70,572.50 2086.31,573.96 2087.89,574.09 2086.68,575.12 2087.05,576.66 2085.70,575.83 2084.35,576.66 2084.72,575.12 2083.51,574.09 2085.09,573.96" fill="#fff"/></g></g><line x1="2555.0" y1="55.0" x2="2555.0" y2="657.0" stroke="#d6d8de" stroke-width="1.5" stroke-linecap="butt"/><line x1="1363.0" y1="602.4" x2="2693.0" y2="602.4" stroke="#d6d8de" stroke-width="1.5" stroke-linecap="butt"/><text x="2573.6" y="110.3" font-size="25" fill="#131722" textLength="97.3" lengthAdjust="spacingAndGlyphs">2100.000</text><text x="2573.6" y="177.0" font-size="25" fill="#131722" textLength="97.3" lengthAdjust="spacingAndGlyphs">2050.000</text><text x="2573.6" y="243.6" font-size="25" fill="#131722" textLength="97.3" lengthAdjust="spacingAndGlyphs">2000.000</text><text x="2573.0" y="310.3" font-size="25" fill="#131722" textLength="97.9" lengthAdjust="spacingAndGlyphs">1950.000</text><text x="2573.0" y="376.9" font-size="25" fill="#131722" textLength="97.9" lengthAdjust="spacingAndGlyphs">1900.000</text><text x="2573.0" y="510.2" font-size="25" fill="#131722" textLength="97.9" lengthAdjust="spacingAndGlyphs">1800.000</text><text x="2573.0" y="576.8" font-size="25" fill="#131722" textLength="97.9" lengthAdjust="spacingAndGlyphs">1750.000</text><rect x="2597" y="66.5" width="54" height="36.2" rx="8" fill="#fff" stroke="#d1d4dc" stroke-width="2"/><text x="2602.4" y="91.5" font-size="24.5" fill="#131722" textLength="42.5" lengthAdjust="spacingAndGlyphs">USD</text><path d="M2554,206.6 h126 a4,4 0 0 1 4,4 v24.900000000000006 a4,4 0 0 1 -4,4 h-126 z" fill="#b71c1c"/><text x="2574.5" y="232.1" font-size="24.5" fill="#ffffff" textLength="96.6" lengthAdjust="spacingAndGlyphs">2008.939</text><path d="M2554,301.1 h126 a4,4 0 0 1 4,4 v53.0 a4,4 0 0 1 -4,4 h-126 z" fill="#d32f2f"/><text x="2573.9" y="326.7" font-size="24.5" fill="#ffffff" textLength="97.0" lengthAdjust="spacingAndGlyphs">1937.960</text><text x="2572.9" y="354.7" font-size="24.5" fill="rgba(255,255,255,0.75)" textLength="94.8" lengthAdjust="spacingAndGlyphs">19:04:43</text><path d="M2554,377.3 h126 a4,4 0 0 1 4,4 v24.899999999999977 a4,4 0 0 1 -4,4 h-126 z" fill="#1b5e20"/><text x="2573.9" y="402.8" font-size="24.5" fill="#ffffff" textLength="97.0" lengthAdjust="spacingAndGlyphs">1880.940</text><path d="M2554,420.1 h126 a4,4 0 0 1 4,4 v25.0 a4,4 0 0 1 -4,4 h-126 z" fill="#1b5e20"/><text x="2573.9" y="445.6" font-size="24.5" fill="#ffffff" textLength="96.7" lengthAdjust="spacingAndGlyphs">1848.674</text><text x="1450.6" y="638.7" font-size="25" fill="#131722" textLength="28.1" lengthAdjust="spacingAndGlyphs">Jul</text><text x="1659.4" y="638.7" font-size="25" fill="#131722" textLength="34.2" lengthAdjust="spacingAndGlyphs">Oct</text><text x="1866.0" y="638.7" font-size="25" fill="#131722" font-weight="bold" textLength="48.9" lengthAdjust="spacingAndGlyphs">2022</text><text x="2086.0" y="638.7" font-size="25" fill="#131722" textLength="34.2" lengthAdjust="spacingAndGlyphs">Apr</text><text x="2301.9" y="638.7" font-size="25" fill="#131722" textLength="28.1" lengthAdjust="spacingAndGlyphs">Jul</text><text x="2511.2" y="638.7" font-size="25" fill="#131722" textLength="34.2" lengthAdjust="spacingAndGlyphs">Oct</text><text x="1377.4" y="93.5" font-size="25" fill="#131722" textLength="299.8" lengthAdjust="spacingAndGlyphs">Gold Spot / U.S. Dollar, 1W,</text><text x="1376.3" y="127.0" font-size="25" fill="#131722" textLength="99.1" lengthAdjust="spacingAndGlyphs">Ichimoku</text><text x="1772.6" y="93.5" font-size="25" fill="#d32f2f" textLength="183.9" lengthAdjust="spacingAndGlyphs">−20.060 (−1.02%)</text><g clip-path="url(#cRB)"><polygon points="1498.6,1217.0 1506.4,1184.4 1519.0,1182.8 1534.7,1180.5 1550.4,1163.2 1563.0,1148.3 1572.4,1145.6 1588.0,1161.6 1607.0,1163.2 1628.9,1169.5 1644.6,1171.8 1655.6,1186.8 1665.0,1196.2 1714.0,1198.5 1714.0,1204.0 1545.0,1206.0 1540.0,1217.0" fill="#e9f4ea"/><polygon points="1714.0,1200.3 1720.9,1183.4 1750.3,1182.2 1760.6,1179.6 1781.3,1178.8 1791.7,1177.0 1960.0,1177.0 1975.1,1176.2 1975.1,1190.0 1960.0,1203.8 1888.4,1202.9 1848.7,1200.3 1838.3,1209.0 1829.7,1214.2 1812.4,1215.0 1791.7,1205.5 1750.3,1212.4 1736.4,1207.3 1720.9,1204.7" fill="#fdeaea"/><polygon points="1975.1,1176.2 1985.2,1170.0 2007.8,1161.2 2017.8,1163.7 2030.4,1172.5 2050.5,1173.7 2080.6,1175.0 2098.2,1182.5 2120.8,1176.2 2133.3,1158.7 2148.4,1147.4 2163.5,1119.7 2183.5,1105.9 2201.1,1100.9 2208.7,1075.8 2211.2,1040.6 2221.2,1038.1 2243.8,1025.6 2266.4,1023.0 2276.5,990.4 2286.5,937.7 2306.6,931.4 2319.2,918.8 2331.7,915.0 2371.9,915.0 2379.4,930.1 2402.0,935.2 2427.1,936.4 2454.8,936.4 2454.8,982.9 2286.5,982.9 2276.5,1005.5 2274.0,1040.6 2268.9,1060.7 2226.2,1075.8 2221.2,1090.9 2201.1,1143.6 2188.6,1144.8 2176.0,1151.1 2163.5,1156.2 2155.9,1170.0 2140.9,1176.2 2115.7,1196.3 2060.5,1196.3 2050.5,1186.3 2032.9,1178.8 2012.8,1178.8 1975.1,1190.0" fill="#e9f4ea"/><line x1="2163.0" y1="908.8" x2="2555.0" y2="908.8" stroke="#b71c1c" stroke-width="5.5" stroke-linecap="butt"/><line x1="1966.4" y1="1008.0" x2="2555.0" y2="1008.0" stroke="#1b5e20" stroke-width="5.5" stroke-linecap="butt"/><line x1="1983.7" y1="1056.8" x2="2555.0" y2="1056.8" stroke="#1b5e20" stroke-width="5.5" stroke-linecap="butt"/><text x="2324.8" y="892.8" font-size="32.7" fill="#b71c1c" textLength="212.3" lengthAdjust="spacingAndGlyphs" stroke="#b71c1c" stroke-width="1.5">1st Resistance</text><text x="2367.5" y="991.2" font-size="32.7" fill="#38761d" textLength="169.3" lengthAdjust="spacingAndGlyphs" stroke="#38761d" stroke-width="1.5">1st Support</text><text x="2356.1" y="1041.0" font-size="32.7" fill="#38761d" textLength="180.6" lengthAdjust="spacingAndGlyphs" stroke="#38761d" stroke-width="1.5">2nd Support</text><line x1="1363.0" y1="961.0" x2="2555.0" y2="961.0" stroke="#388e3c" stroke-width="2" stroke-linecap="butt" stroke-dasharray="2 4"/><line x1="2160.0" y1="913.7" x2="2555.0" y2="913.7" stroke="#1976d2" stroke-width="4" stroke-linecap="butt" stroke-dasharray="4 8"/><line x1="1975.9" y1="994.0" x2="2555.0" y2="994.0" stroke="#1976d2" stroke-width="4" stroke-linecap="butt" stroke-dasharray="4 8"/><line x1="2106.0" y1="1069.0" x2="2555.0" y2="1069.0" stroke="#1976d2" stroke-width="4" stroke-linecap="butt" stroke-dasharray="4 8"/><text x="2069.1" y="923.0" font-size="25" fill="#1976d2" textLength="85.6" lengthAdjust="spacingAndGlyphs">100.00%</text><text x="1778.4" y="1002.7" font-size="25" fill="#1976d2" textLength="188.7" lengthAdjust="spacingAndGlyphs">78.60%(1918.877)</text><text x="1897.2" y="1077.9" font-size="25" fill="#1976d2" textLength="201.0" lengthAdjust="spacingAndGlyphs">127.20%(1876.173)</text><line x1="1974.0" y1="1066.0" x2="2050.0" y2="729.0" stroke="#787b86" stroke-width="1.5" stroke-linecap="butt" stroke-dasharray="2 4"/><line x1="2105.4" y1="1034.1" x2="2163.0" y2="906.0" stroke="#787b86" stroke-width="4" stroke-linecap="butt" stroke-dasharray="4 8"/><line x1="2163.0" y1="906.0" x2="2189.3" y2="1037.0" stroke="#787b86" stroke-width="4" stroke-linecap="butt" stroke-dasharray="4 8"/><rect x="1363.9" y="1208.0" width="2.0" height="9.0" fill="#d32f2f"/><rect x="1361.0" y="1217.0" width="7.8" height="13.0" fill="#d32f2f"/><rect x="1373.3" y="1210.8" width="2.0" height="6.2" fill="#d32f2f"/><rect x="1370.4" y="1217.0" width="7.8" height="13.0" fill="#d32f2f"/><rect x="1382.7" y="1175.0" width="2.0" height="39.0" fill="#388e3c"/><rect x="1379.8" y="1214.0" width="7.8" height="16.0" fill="#388e3c"/><rect x="1392.0" y="1203.0" width="2.0" height="11.0" fill="#d32f2f"/><rect x="1389.1" y="1214.0" width="7.8" height="16.0" fill="#d32f2f"/><rect x="1401.4" y="1187.0" width="2.0" height="30.0" fill="#d32f2f"/><rect x="1398.5" y="1217.0" width="7.8" height="13.0" fill="#d32f2f"/><rect x="1410.8" y="1210.8" width="2.0" height="6.2" fill="#388e3c"/><rect x="1407.9" y="1217.0" width="7.8" height="13.0" fill="#388e3c"/><rect x="1457.7" y="1214.0" width="2.0" height="3.0" fill="#d32f2f"/><rect x="1454.8" y="1217.0" width="7.8" height="13.0" fill="#d32f2f"/><rect x="1511.1" y="1203.2" width="7.8" height="26.8" fill="#388e3c"/><rect x="1523.4" y="1177.0" width="2.0" height="26.2" fill="#d32f2f"/><rect x="1523.4" y="1205.6" width="2.0" height="3.1" fill="#d32f2f"/><rect x="1520.5" y="1203.2" width="7.8" height="2.4" fill="#d32f2f"/><rect x="1532.8" y="1195.0" width="2.0" height="10.0" fill="#d32f2f"/><rect x="1529.9" y="1205.0" width="7.8" height="25.0" fill="#d32f2f"/><rect x="1542.2" y="1201.0" width="2.0" height="16.0" fill="#d32f2f"/><rect x="1539.3" y="1217.0" width="7.8" height="13.0" fill="#d32f2f"/><rect x="1551.5" y="1193.0" width="2.0" height="3.2" fill="#388e3c"/><rect x="1548.6" y="1196.2" width="7.8" height="33.8" fill="#388e3c"/><rect x="1560.9" y="1183.1" width="2.0" height="4.1" fill="#388e3c"/><rect x="1560.9" y="1196.6" width="2.0" height="7.4" fill="#388e3c"/><rect x="1558.0" y="1187.2" width="7.8" height="9.4" fill="#388e3c"/><rect x="1570.3" y="1178.0" width="2.0" height="3.0" fill="#388e3c"/><rect x="1570.3" y="1187.5" width="2.0" height="9.5" fill="#388e3c"/><rect x="1567.4" y="1181.0" width="7.8" height="6.5" fill="#388e3c"/><rect x="1579.7" y="1167.0" width="2.0" height="14.0" fill="#d32f2f"/><rect x="1579.7" y="1192.0" width="2.0" height="0.7" fill="#d32f2f"/><rect x="1576.8" y="1181.0" width="7.8" height="11.0" fill="#d32f2f"/><rect x="1589.1" y="1189.0" width="2.0" height="2.0" fill="#d32f2f"/><rect x="1589.1" y="1195.7" width="2.0" height="34.3" fill="#d32f2f"/><rect x="1586.2" y="1191.0" width="7.8" height="4.7" fill="#d32f2f"/><rect x="1598.5" y="1172.0" width="2.0" height="4.0" fill="#388e3c"/><rect x="1598.5" y="1195.9" width="2.0" height="12.8" fill="#388e3c"/><rect x="1595.5" y="1176.0" width="7.8" height="19.9" fill="#388e3c"/><rect x="1607.8" y="1149.0" width="2.0" height="3.0" fill="#388e3c"/><rect x="1604.9" y="1152.0" width="7.8" height="24.5" fill="#388e3c"/><rect x="1617.2" y="1146.0" width="2.0" height="6.0" fill="#d32f2f"/><rect x="1617.2" y="1200.6" width="2.0" height="4.2" fill="#d32f2f"/><rect x="1614.3" y="1152.0" width="7.8" height="48.6" fill="#d32f2f"/><rect x="1626.6" y="1173.0" width="2.0" height="4.0" fill="#388e3c"/><rect x="1626.6" y="1200.6" width="2.0" height="4.2" fill="#388e3c"/><rect x="1623.7" y="1177.0" width="7.8" height="23.6" fill="#388e3c"/><rect x="1636.0" y="1150.0" width="2.0" height="27.0" fill="#d32f2f"/><rect x="1636.0" y="1184.4" width="2.0" height="3.1" fill="#d32f2f"/><rect x="1633.1" y="1177.0" width="7.8" height="7.4" fill="#d32f2f"/><rect x="1645.4" y="1182.0" width="2.0" height="2.0" fill="#d32f2f"/><rect x="1642.5" y="1184.0" width="7.8" height="46.0" fill="#d32f2f"/><rect x="1654.7" y="1204.0" width="2.0" height="4.0" fill="#388e3c"/><rect x="1651.8" y="1208.0" width="7.8" height="22.0" fill="#388e3c"/><rect x="1664.1" y="1197.7" width="2.0" height="1.3" fill="#388e3c"/><rect x="1664.1" y="1208.7" width="2.0" height="21.3" fill="#388e3c"/><rect x="1661.2" y="1199.0" width="7.8" height="9.7" fill="#388e3c"/><rect x="1673.5" y="1161.0" width="2.0" height="3.0" fill="#388e3c"/><rect x="1673.5" y="1200.3" width="2.0" height="1.4" fill="#388e3c"/><rect x="1670.6" y="1164.0" width="7.8" height="36.3" fill="#388e3c"/><rect x="1682.9" y="1152.8" width="2.0" height="3.5" fill="#388e3c"/><rect x="1682.9" y="1165.0" width="2.0" height="10.8" fill="#388e3c"/><rect x="1680.0" y="1156.3" width="7.8" height="8.7" fill="#388e3c"/><rect x="1692.3" y="1152.8" width="2.0" height="3.5" fill="#d32f2f"/><rect x="1692.3" y="1162.3" width="2.0" height="17.3" fill="#d32f2f"/><rect x="1689.4" y="1156.3" width="7.8" height="6.0" fill="#d32f2f"/><rect x="1701.7" y="1151.0" width="2.0" height="11.3" fill="#d32f2f"/><rect x="1701.7" y="1171.6" width="2.0" height="4.2" fill="#d32f2f"/><rect x="1698.8" y="1162.3" width="7.8" height="9.3" fill="#d32f2f"/><rect x="1711.0" y="1161.0" width="2.0" height="8.0" fill="#388e3c"/><rect x="1711.0" y="1171.0" width="2.0" height="7.8" fill="#388e3c"/><rect x="1708.1" y="1169.0" width="7.8" height="2.0" fill="#388e3c"/><rect x="1720.4" y="1162.3" width="2.0" height="6.1" fill="#d32f2f"/><rect x="1720.4" y="1178.8" width="2.0" height="12.9" fill="#d32f2f"/><rect x="1717.5" y="1168.4" width="7.8" height="10.4" fill="#d32f2f"/><rect x="1729.8" y="1126.0" width="2.0" height="5.3" fill="#388e3c"/><rect x="1729.8" y="1178.8" width="2.0" height="5.2" fill="#388e3c"/><rect x="1726.9" y="1131.3" width="7.8" height="47.5" fill="#388e3c"/><rect x="1739.2" y="1118.3" width="2.0" height="12.7" fill="#d32f2f"/><rect x="1739.2" y="1133.0" width="2.0" height="6.0" fill="#d32f2f"/><rect x="1736.3" y="1131.0" width="7.8" height="2.0" fill="#d32f2f"/><rect x="1748.6" y="1126.0" width="2.0" height="7.3" fill="#d32f2f"/><rect x="1748.6" y="1141.6" width="2.0" height="10.4" fill="#d32f2f"/><rect x="1745.7" y="1133.3" width="7.8" height="8.3" fill="#d32f2f"/><rect x="1757.9" y="1124.0" width="2.0" height="3.0" fill="#388e3c"/><rect x="1757.9" y="1141.6" width="2.0" height="8.4" fill="#388e3c"/><rect x="1755.0" y="1127.0" width="7.8" height="14.6" fill="#388e3c"/><rect x="1767.3" y="1108.0" width="2.0" height="10.0" fill="#388e3c"/><rect x="1767.3" y="1127.8" width="2.0" height="13.0" fill="#388e3c"/><rect x="1764.4" y="1118.0" width="7.8" height="9.8" fill="#388e3c"/><rect x="1776.7" y="1114.0" width="2.0" height="4.0" fill="#d32f2f"/><rect x="1776.7" y="1168.4" width="2.0" height="7.4" fill="#d32f2f"/><rect x="1773.8" y="1118.0" width="7.8" height="50.4" fill="#d32f2f"/><rect x="1786.1" y="1162.9" width="2.0" height="5.1" fill="#d32f2f"/><rect x="1786.1" y="1207.3" width="2.0" height="22.7" fill="#d32f2f"/><rect x="1783.2" y="1168.0" width="7.8" height="39.3" fill="#d32f2f"/><rect x="1795.5" y="1203.5" width="2.0" height="3.8" fill="#d32f2f"/><rect x="1792.6" y="1207.3" width="7.8" height="22.7" fill="#d32f2f"/><rect x="1804.9" y="1202.0" width="2.0" height="5.3" fill="#388e3c"/><rect x="1802.0" y="1207.3" width="7.8" height="22.7" fill="#388e3c"/><rect x="1814.2" y="1187.0" width="2.0" height="13.3" fill="#388e3c"/><rect x="1814.2" y="1208.0" width="2.0" height="1.0" fill="#388e3c"/><rect x="1811.3" y="1200.3" width="7.8" height="7.7" fill="#388e3c"/><rect x="1823.6" y="1183.0" width="2.0" height="7.0" fill="#388e3c"/><rect x="1823.6" y="1200.3" width="2.0" height="11.3" fill="#388e3c"/><rect x="1820.7" y="1190.0" width="7.8" height="10.3" fill="#388e3c"/><rect x="1833.0" y="1186.0" width="2.0" height="4.0" fill="#d32f2f"/><rect x="1833.0" y="1194.3" width="2.0" height="35.7" fill="#d32f2f"/><rect x="1830.1" y="1190.0" width="7.8" height="4.3" fill="#d32f2f"/><rect x="1842.4" y="1176.0" width="2.0" height="12.0" fill="#388e3c"/><rect x="1842.4" y="1194.8" width="2.0" height="35.2" fill="#388e3c"/><rect x="1839.5" y="1188.0" width="7.8" height="6.8" fill="#388e3c"/><rect x="1851.8" y="1161.0" width="2.0" height="5.0" fill="#388e3c"/><rect x="1848.9" y="1166.0" width="7.8" height="22.0" fill="#388e3c"/><rect x="1861.1" y="1152.3" width="2.0" height="4.0" fill="#388e3c"/><rect x="1861.1" y="1166.0" width="2.0" height="8.4" fill="#388e3c"/><rect x="1858.2" y="1156.3" width="7.8" height="9.7" fill="#388e3c"/><rect x="1870.5" y="1139.0" width="2.0" height="5.2" fill="#388e3c"/><rect x="1870.5" y="1156.3" width="2.0" height="2.2" fill="#388e3c"/><rect x="1867.6" y="1144.2" width="7.8" height="12.1" fill="#388e3c"/><rect x="1879.9" y="1129.0" width="2.0" height="15.2" fill="#d32f2f"/><rect x="1879.9" y="1155.4" width="2.0" height="7.8" fill="#d32f2f"/><rect x="1877.0" y="1144.2" width="7.8" height="11.2" fill="#d32f2f"/><rect x="1889.3" y="1088.4" width="2.0" height="10.6" fill="#388e3c"/><rect x="1889.3" y="1155.4" width="2.0" height="9.0" fill="#388e3c"/><rect x="1886.4" y="1099.0" width="7.8" height="56.4" fill="#388e3c"/><rect x="1898.7" y="1072.5" width="2.0" height="4.7" fill="#388e3c"/><rect x="1898.7" y="1099.3" width="2.0" height="13.0" fill="#388e3c"/><rect x="1895.8" y="1077.2" width="7.8" height="22.1" fill="#388e3c"/><rect x="1908.1" y="1064.0" width="2.0" height="13.2" fill="#d32f2f"/><rect x="1908.1" y="1108.8" width="2.0" height="14.7" fill="#d32f2f"/><rect x="1905.2" y="1077.2" width="7.8" height="31.6" fill="#d32f2f"/><rect x="1917.4" y="1076.0" width="2.0" height="5.2" fill="#388e3c"/><rect x="1917.4" y="1108.8" width="2.0" height="4.8" fill="#388e3c"/><rect x="1914.5" y="1081.2" width="7.8" height="27.6" fill="#388e3c"/><rect x="1926.8" y="1025.6" width="2.0" height="4.6" fill="#388e3c"/><rect x="1926.8" y="1082.0" width="2.0" height="0.6" fill="#388e3c"/><rect x="1923.9" y="1030.2" width="7.8" height="51.8" fill="#388e3c"/><rect x="1936.2" y="1023.3" width="2.0" height="6.7" fill="#d32f2f"/><rect x="1936.2" y="1032.0" width="2.0" height="18.4" fill="#d32f2f"/><rect x="1933.3" y="1030.0" width="7.8" height="2.0" fill="#d32f2f"/><rect x="1945.6" y="1013.0" width="2.0" height="7.2" fill="#388e3c"/><rect x="1945.6" y="1032.0" width="2.0" height="16.4" fill="#388e3c"/><rect x="1942.7" y="1020.2" width="7.8" height="11.8" fill="#388e3c"/><rect x="1955.0" y="1002.4" width="2.0" height="17.8" fill="#d32f2f"/><rect x="1955.0" y="1030.4" width="2.0" height="9.9" fill="#d32f2f"/><rect x="1952.1" y="1020.2" width="7.8" height="10.2" fill="#d32f2f"/><rect x="1964.3" y="1008.0" width="2.0" height="2.9" fill="#388e3c"/><rect x="1964.3" y="1030.4" width="2.0" height="13.9" fill="#388e3c"/><rect x="1961.4" y="1010.9" width="7.8" height="19.5" fill="#388e3c"/><rect x="1973.7" y="897.0" width="2.0" height="113.9" fill="#d32f2f"/><rect x="1973.7" y="1020.2" width="2.0" height="45.8" fill="#d32f2f"/><rect x="1970.8" y="1010.9" width="7.8" height="9.3" fill="#d32f2f"/><rect x="1983.1" y="989.5" width="2.0" height="30.7" fill="#d32f2f"/><rect x="1983.1" y="1046.1" width="2.0" height="10.2" fill="#d32f2f"/><rect x="1980.2" y="1020.2" width="7.8" height="25.9" fill="#d32f2f"/><rect x="1992.5" y="978.9" width="2.0" height="32.0" fill="#388e3c"/><rect x="1989.6" y="1010.9" width="7.8" height="35.2" fill="#388e3c"/><rect x="2001.9" y="939.4" width="2.0" height="7.4" fill="#388e3c"/><rect x="2001.9" y="1010.9" width="2.0" height="13.3" fill="#388e3c"/><rect x="1999.0" y="946.8" width="7.8" height="64.1" fill="#388e3c"/><rect x="2011.3" y="942.8" width="2.0" height="4.0" fill="#d32f2f"/><rect x="2011.3" y="977.5" width="2.0" height="24.9" fill="#d32f2f"/><rect x="2008.4" y="946.8" width="7.8" height="30.7" fill="#d32f2f"/><rect x="2020.6" y="954.9" width="2.0" height="8.0" fill="#388e3c"/><rect x="2020.6" y="977.5" width="2.0" height="10.7" fill="#388e3c"/><rect x="2017.7" y="962.9" width="7.8" height="14.6" fill="#388e3c"/><rect x="2030.0" y="963.4" width="2.0" height="11.5" fill="#388e3c"/><rect x="2027.1" y="902.8" width="7.8" height="60.6" fill="#388e3c"/><rect x="2039.4" y="848.1" width="2.0" height="9.3" fill="#388e3c"/><rect x="2039.4" y="903.6" width="2.0" height="16.0" fill="#388e3c"/><rect x="2036.5" y="857.4" width="7.8" height="46.2" fill="#388e3c"/><rect x="2048.8" y="728.8" width="2.0" height="36.0" fill="#388e3c"/><rect x="2048.8" y="858.0" width="2.0" height="26.7" fill="#388e3c"/><rect x="2045.9" y="764.8" width="7.8" height="93.2" fill="#388e3c"/><rect x="2058.2" y="748.8" width="2.0" height="16.0" fill="#d32f2f"/><rect x="2058.2" y="866.0" width="2.0" height="28.0" fill="#d32f2f"/><rect x="2055.3" y="764.8" width="7.8" height="101.2" fill="#d32f2f"/><rect x="2067.6" y="836.1" width="2.0" height="22.7" fill="#388e3c"/><rect x="2067.6" y="866.0" width="2.0" height="38.1" fill="#388e3c"/><rect x="2064.7" y="858.8" width="7.8" height="7.2" fill="#388e3c"/><rect x="2076.9" y="854.0" width="2.0" height="4.8" fill="#d32f2f"/><rect x="2076.9" y="872.7" width="2.0" height="52.3" fill="#d32f2f"/><rect x="2074.0" y="858.8" width="7.8" height="13.9" fill="#d32f2f"/><rect x="2083.4" y="872.1" width="7.8" height="67.3" fill="#d32f2f"/><rect x="2095.7" y="932.2" width="2.0" height="6.6" fill="#d32f2f"/><rect x="2095.7" y="996.6" width="2.0" height="18.3" fill="#d32f2f"/><rect x="2092.8" y="938.8" width="7.8" height="57.8" fill="#d32f2f"/><rect x="2105.1" y="975.3" width="2.0" height="4.2" fill="#388e3c"/><rect x="2105.1" y="996.4" width="2.0" height="39.2" fill="#388e3c"/><rect x="2102.2" y="979.5" width="7.8" height="16.9" fill="#388e3c"/><rect x="2114.5" y="939.9" width="2.0" height="13.2" fill="#388e3c"/><rect x="2114.5" y="979.8" width="2.0" height="5.7" fill="#388e3c"/><rect x="2111.6" y="953.1" width="7.8" height="26.7" fill="#388e3c"/><rect x="2123.8" y="948.4" width="2.0" height="4.7" fill="#d32f2f"/><rect x="2123.8" y="991.7" width="2.0" height="4.3" fill="#d32f2f"/><rect x="2120.9" y="953.1" width="7.8" height="38.6" fill="#d32f2f"/><rect x="2133.2" y="955.0" width="2.0" height="10.0" fill="#388e3c"/><rect x="2133.2" y="991.7" width="2.0" height="3.8" fill="#388e3c"/><rect x="2130.3" y="965.0" width="7.8" height="26.7" fill="#388e3c"/><rect x="2142.6" y="960.6" width="2.0" height="4.4" fill="#d32f2f"/><rect x="2142.6" y="990.8" width="2.0" height="16.9" fill="#d32f2f"/><rect x="2139.7" y="965.0" width="7.8" height="25.8" fill="#d32f2f"/><rect x="2152.0" y="943.3" width="2.0" height="5.6" fill="#388e3c"/><rect x="2152.0" y="990.8" width="2.0" height="9.0" fill="#388e3c"/><rect x="2149.1" y="948.9" width="7.8" height="41.9" fill="#388e3c"/><rect x="2161.4" y="910.7" width="2.0" height="15.6" fill="#388e3c"/><rect x="2161.4" y="949.7" width="2.0" height="11.5" fill="#388e3c"/><rect x="2158.5" y="926.3" width="7.8" height="23.4" fill="#388e3c"/><rect x="2170.8" y="915.4" width="2.0" height="9.9" fill="#388e3c"/><rect x="2170.8" y="927.3" width="2.0" height="25.4" fill="#388e3c"/><rect x="2167.9" y="925.3" width="7.8" height="2.0" fill="#388e3c"/><rect x="2180.1" y="925.2" width="2.0" height="1.1" fill="#d32f2f"/><rect x="2180.1" y="988.0" width="2.0" height="8.4" fill="#d32f2f"/><rect x="2177.2" y="926.3" width="7.8" height="61.7" fill="#d32f2f"/><rect x="2189.5" y="976.0" width="2.0" height="11.4" fill="#d32f2f"/><rect x="2189.5" y="993.6" width="2.0" height="49.9" fill="#d32f2f"/><rect x="2186.6" y="987.4" width="7.8" height="6.2" fill="#d32f2f"/><rect x="2198.9" y="960.6" width="2.0" height="9.4" fill="#388e3c"/><rect x="2198.9" y="993.6" width="2.0" height="4.7" fill="#388e3c"/><rect x="2196.0" y="970.0" width="7.8" height="23.6" fill="#388e3c"/><rect x="2208.3" y="940.3" width="2.0" height="21.8" fill="#388e3c"/><rect x="2208.3" y="970.4" width="2.0" height="23.2" fill="#388e3c"/><rect x="2205.4" y="962.1" width="7.8" height="8.3" fill="#388e3c"/><rect x="2217.7" y="960.6" width="2.0" height="0.6" fill="#388e3c"/><rect x="2217.7" y="962.5" width="2.0" height="7.2" fill="#388e3c"/><rect x="2214.8" y="961.2" width="7.8" height="2.0" fill="#388e3c"/><g><circle cx="2247.3" cy="1189.9" r="20.4" fill="#fff" stroke="#ff9800" stroke-width="3"/><clipPath id="fc22473_11899"><circle cx="2247.3" cy="1189.9" r="15.9"/></clipPath><g clip-path="url(#fc22473_11899)"><rect x="2231.3" y="1173.7" width="32" height="32.4" fill="#f0f3fa"/><rect x="2231.3" y="1173.7" width="32" height="7.1" fill="#ef5350"/><rect x="2231.3" y="1186.1000000000001" width="32" height="7.6" fill="#ef5350"/><rect x="2231.3" y="1198.8000000000002" width="32" height="7.3" fill="#ef5350"/><rect x="2231.3" y="1173.7" width="19.1" height="20" fill="#1e88e5"/></g><polygon points="2240.50,1175.50 2241.11,1176.96 2242.69,1177.09 2241.48,1178.12 2241.85,1179.66 2240.50,1178.84 2239.15,1179.66 2239.52,1178.12 2238.31,1177.09 2239.89,1176.96" fill="#fff"/><polygon points="2246.20,1175.50 2246.81,1176.96 2248.39,1177.09 2247.18,1178.12 2247.55,1179.66 2246.20,1178.84 2244.85,1179.66 2245.22,1178.12 2244.01,1177.09 2245.59,1176.96" fill="#fff"/><polygon points="2235.40,1181.20 2236.01,1182.66 2237.59,1182.79 2236.38,1183.82 2236.75,1185.36 2235.40,1184.54 2234.05,1185.36 2234.42,1183.82 2233.21,1182.79 2234.79,1182.66" fill="#fff"/><polygon points="2240.70,1181.20 2241.31,1182.66 2242.89,1182.79 2241.68,1183.82 2242.05,1185.36 2240.70,1184.54 2239.35,1185.36 2239.72,1183.82 2238.51,1182.79 2240.09,1182.66" fill="#fff"/><polygon points="2246.20,1181.20 2246.81,1182.66 2248.39,1182.79 2247.18,1183.82 2247.55,1185.36 2246.20,1184.54 2244.85,1185.36 2245.22,1183.82 2244.01,1182.79 2245.59,1182.66" fill="#fff"/><polygon points="2235.40,1186.50 2236.01,1187.96 2237.59,1188.09 2236.38,1189.12 2236.75,1190.66 2235.40,1189.84 2234.05,1190.66 2234.42,1189.12 2233.21,1188.09 2234.79,1187.96" fill="#fff"/><polygon points="2240.70,1186.50 2241.31,1187.96 2242.89,1188.09 2241.68,1189.12 2242.05,1190.66 2240.70,1189.84 2239.35,1190.66 2239.72,1189.12 2238.51,1188.09 2240.09,1187.96" fill="#fff"/><polygon points="2246.20,1186.50 2246.81,1187.96 2248.39,1188.09 2247.18,1189.12 2247.55,1190.66 2246.20,1189.84 2244.85,1190.66 2245.22,1189.12 2244.01,1188.09 2245.59,1187.96" fill="#fff"/></g><g><circle cx="2237.1" cy="1189.9" r="20.4" fill="#fff" stroke="#f23645" stroke-width="3"/><clipPath id="fc22371_11899"><circle cx="2237.1" cy="1189.9" r="15.9"/></clipPath><g clip-path="url(#fc22371_11899)"><rect x="2221.1" y="1173.7" width="32" height="32.4" fill="#f0f3fa"/><rect x="2221.1" y="1173.7" width="32" height="7.1" fill="#ef5350"/><rect x="2221.1" y="1186.1000000000001" width="32" height="7.6" fill="#ef5350"/><rect x="2221.1" y="1198.8000000000002" width="32" height="7.3" fill="#ef5350"/><rect x="2221.1" y="1173.7" width="19.1" height="20" fill="#1e88e5"/></g><polygon points="2230.30,1175.50 2230.91,1176.96 2232.49,1177.09 2231.28,1178.12 2231.65,1179.66 2230.30,1178.84 2228.95,1179.66 2229.32,1178.12 2228.11,1177.09 2229.69,1176.96" fill="#fff"/><polygon points="2236.00,1175.50 2236.61,1176.96 2238.19,1177.09 2236.98,1178.12 2237.35,1179.66 2236.00,1178.84 2234.65,1179.66 2235.02,1178.12 2233.81,1177.09 2235.39,1176.96" fill="#fff"/><polygon points="2225.20,1181.20 2225.81,1182.66 2227.39,1182.79 2226.18,1183.82 2226.55,1185.36 2225.20,1184.54 2223.85,1185.36 2224.22,1183.82 2223.01,1182.79 2224.59,1182.66" fill="#fff"/><polygon points="2230.50,1181.20 2231.11,1182.66 2232.69,1182.79 2231.48,1183.82 2231.85,1185.36 2230.50,1184.54 2229.15,1185.36 2229.52,1183.82 2228.31,1182.79 2229.89,1182.66" fill="#fff"/><polygon points="2236.00,1181.20 2236.61,1182.66 2238.19,1182.79 2236.98,1183.82 2237.35,1185.36 2236.00,1184.54 2234.65,1185.36 2235.02,1183.82 2233.81,1182.79 2235.39,1182.66" fill="#fff"/><polygon points="2225.20,1186.50 2225.81,1187.96 2227.39,1188.09 2226.18,1189.12 2226.55,1190.66 2225.20,1189.84 2223.85,1190.66 2224.22,1189.12 2223.01,1188.09 2224.59,1187.96" fill="#fff"/><polygon points="2230.50,1186.50 2231.11,1187.96 2232.69,1188.09 2231.48,1189.12 2231.85,1190.66 2230.50,1189.84 2229.15,1190.66 2229.52,1189.12 2228.31,1188.09 2229.89,1187.96" fill="#fff"/><polygon points="2236.00,1186.50 2236.61,1187.96 2238.19,1188.09 2236.98,1189.12 2237.35,1190.66 2236.00,1189.84 2234.65,1190.66 2235.02,1189.12 2233.81,1188.09 2235.39,1187.96" fill="#fff"/></g><g><circle cx="2228.7" cy="1189.9" r="20.4" fill="#fff" stroke="#ff9800" stroke-width="3"/><clipPath id="fc22287_11899"><circle cx="2228.7" cy="1189.9" r="15.9"/></clipPath><g clip-path="url(#fc22287_11899)"><rect x="2212.7" y="1173.7" width="32" height="32.4" fill="#f0f3fa"/><rect x="2212.7" y="1173.7" width="32" height="7.1" fill="#ef5350"/><rect x="2212.7" y="1186.1000000000001" width="32" height="7.6" fill="#ef5350"/><rect x="2212.7" y="1198.8000000000002" width="32" height="7.3" fill="#ef5350"/><rect x="2212.7" y="1173.7" width="19.1" height="20" fill="#1e88e5"/></g><polygon points="2221.90,1175.50 2222.51,1176.96 2224.09,1177.09 2222.88,1178.12 2223.25,1179.66 2221.90,1178.84 2220.55,1179.66 2220.92,1178.12 2219.71,1177.09 2221.29,1176.96" fill="#fff"/><polygon points="2227.60,1175.50 2228.21,1176.96 2229.79,1177.09 2228.58,1178.12 2228.95,1179.66 2227.60,1178.84 2226.25,1179.66 2226.62,1178.12 2225.41,1177.09 2226.99,1176.96" fill="#fff"/><polygon points="2216.80,1181.20 2217.41,1182.66 2218.99,1182.79 2217.78,1183.82 2218.15,1185.36 2216.80,1184.54 2215.45,1185.36 2215.82,1183.82 2214.61,1182.79 2216.19,1182.66" fill="#fff"/><polygon points="2222.10,1181.20 2222.71,1182.66 2224.29,1182.79 2223.08,1183.82 2223.45,1185.36 2222.10,1184.54 2220.75,1185.36 2221.12,1183.82 2219.91,1182.79 2221.49,1182.66" fill="#fff"/><polygon points="2227.60,1181.20 2228.21,1182.66 2229.79,1182.79 2228.58,1183.82 2228.95,1185.36 2227.60,1184.54 2226.25,1185.36 2226.62,1183.82 2225.41,1182.79 2226.99,1182.66" fill="#fff"/><polygon points="2216.80,1186.50 2217.41,1187.96 2218.99,1188.09 2217.78,1189.12 2218.15,1190.66 2216.80,1189.84 2215.45,1190.66 2215.82,1189.12 2214.61,1188.09 2216.19,1187.96" fill="#fff"/><polygon points="2222.10,1186.50 2222.71,1187.96 2224.29,1188.09 2223.08,1189.12 2223.45,1190.66 2222.10,1189.84 2220.75,1190.66 2221.12,1189.12 2219.91,1188.09 2221.49,1187.96" fill="#fff"/><polygon points="2227.60,1186.50 2228.21,1187.96 2229.79,1188.09 2228.58,1189.12 2228.95,1190.66 2227.60,1189.84 2226.25,1190.66 2226.62,1189.12 2225.41,1188.09 2226.99,1187.96" fill="#fff"/></g><g><circle cx="2218.6" cy="1189.9" r="20.4" fill="#fff" stroke="#f23645" stroke-width="3"/><clipPath id="fc22186_11899"><circle cx="2218.6" cy="1189.9" r="15.9"/></clipPath><g clip-path="url(#fc22186_11899)"><rect x="2202.6" y="1173.7" width="32" height="32.4" fill="#f0f3fa"/><rect x="2202.6" y="1173.7" width="32" height="7.1" fill="#ef5350"/><rect x="2202.6" y="1186.1000000000001" width="32" height="7.6" fill="#ef5350"/><rect x="2202.6" y="1198.8000000000002" width="32" height="7.3" fill="#ef5350"/><rect x="2202.6" y="1173.7" width="19.1" height="20" fill="#1e88e5"/></g><polygon points="2211.80,1175.50 2212.41,1176.96 2213.99,1177.09 2212.78,1178.12 2213.15,1179.66 2211.80,1178.84 2210.45,1179.66 2210.82,1178.12 2209.61,1177.09 2211.19,1176.96" fill="#fff"/><polygon points="2217.50,1175.50 2218.11,1176.96 2219.69,1177.09 2218.48,1178.12 2218.85,1179.66 2217.50,1178.84 2216.15,1179.66 2216.52,1178.12 2215.31,1177.09 2216.89,1176.96" fill="#fff"/><polygon points="2206.70,1181.20 2207.31,1182.66 2208.89,1182.79 2207.68,1183.82 2208.05,1185.36 2206.70,1184.54 2205.35,1185.36 2205.72,1183.82 2204.51,1182.79 2206.09,1182.66" fill="#fff"/><polygon points="2212.00,1181.20 2212.61,1182.66 2214.19,1182.79 2212.98,1183.82 2213.35,1185.36 2212.00,1184.54 2210.65,1185.36 2211.02,1183.82 2209.81,1182.79 2211.39,1182.66" fill="#fff"/><polygon points="2217.50,1181.20 2218.11,1182.66 2219.69,1182.79 2218.48,1183.82 2218.85,1185.36 2217.50,1184.54 2216.15,1185.36 2216.52,1183.82 2215.31,1182.79 2216.89,1182.66" fill="#fff"/><polygon points="2206.70,1186.50 2207.31,1187.96 2208.89,1188.09 2207.68,1189.12 2208.05,1190.66 2206.70,1189.84 2205.35,1190.66 2205.72,1189.12 2204.51,1188.09 2206.09,1187.96" fill="#fff"/><polygon points="2212.00,1186.50 2212.61,1187.96 2214.19,1188.09 2212.98,1189.12 2213.35,1190.66 2212.00,1189.84 2210.65,1190.66 2211.02,1189.12 2209.81,1188.09 2211.39,1187.96" fill="#fff"/><polygon points="2217.50,1186.50 2218.11,1187.96 2219.69,1188.09 2218.48,1189.12 2218.85,1190.66 2217.50,1189.84 2216.15,1190.66 2216.52,1189.12 2215.31,1188.09 2216.89,1187.96" fill="#fff"/></g></g><line x1="2555.0" y1="669.0" x2="2555.0" y2="1271.0" stroke="#d6d8de" stroke-width="1.5" stroke-linecap="butt"/><line x1="1363.0" y1="1217.0" x2="2693.0" y2="1217.0" stroke="#d6d8de" stroke-width="1.5" stroke-linecap="butt"/><text x="2573.6" y="720.3" font-size="24.5" fill="#131722" textLength="97.3" lengthAdjust="spacingAndGlyphs">2080.000</text><text x="2573.6" y="790.2" font-size="24.5" fill="#131722" textLength="97.3" lengthAdjust="spacingAndGlyphs">2040.000</text><text x="2573.6" y="860.1" font-size="24.5" fill="#131722" textLength="97.3" lengthAdjust="spacingAndGlyphs">2000.000</text><text x="2573.0" y="930.0" font-size="24.5" fill="#131722" textLength="97.9" lengthAdjust="spacingAndGlyphs">1960.000</text><text x="2573.0" y="1000.0" font-size="24.5" fill="#131722" textLength="97.9" lengthAdjust="spacingAndGlyphs">1920.000</text><text x="2573.0" y="1069.9" font-size="24.5" fill="#131722" textLength="97.9" lengthAdjust="spacingAndGlyphs">1880.000</text><text x="2573.0" y="1139.8" font-size="24.5" fill="#131722" textLength="97.9" lengthAdjust="spacingAndGlyphs">1840.000</text><text x="2573.0" y="1209.7" font-size="24.5" fill="#131722" textLength="97.9" lengthAdjust="spacingAndGlyphs">1800.000</text><rect x="2597" y="681" width="54" height="35.5" rx="8" fill="#fff" stroke="#d1d4dc" stroke-width="2"/><text x="2602.4" y="706.0" font-size="24.5" fill="#131722" textLength="42.5" lengthAdjust="spacingAndGlyphs">USD</text><path d="M2555,892.4 h126 a4,4 0 0 1 4,4 v25.0 a4,4 0 0 1 -4,4 h-126 z" fill="#b71c1c"/><text x="2574.9" y="917.9" font-size="24.5" fill="#ffffff" textLength="97.2" lengthAdjust="spacingAndGlyphs">1967.322</text><path d="M2555,944.4 h126 a4,4 0 0 1 4,4 v53.0 a4,4 0 0 1 -4,4 h-126 z" fill="#388e3c"/><text x="2574.9" y="970.0" font-size="24.5" fill="#ffffff" textLength="97.0" lengthAdjust="spacingAndGlyphs">1937.960</text><text x="2573.9" y="998.0" font-size="24.5" fill="rgba(255,255,255,0.75)" textLength="94.8" lengthAdjust="spacingAndGlyphs">19:04:43</text><path d="M2555,1005.4 h126 a4,4 0 0 1 4,4 v25.800000000000068 a4,4 0 0 1 -4,4 h-126 z" fill="#1b5e20"/><text x="2574.9" y="1030.9" font-size="24.5" fill="#ffffff" textLength="97.2" lengthAdjust="spacingAndGlyphs">1910.771</text><path d="M2555,1040.7 h126 a4,4 0 0 1 4,4 v25.0 a4,4 0 0 1 -4,4 h-126 z" fill="#1b5e20"/><text x="2574.9" y="1066.2" font-size="24.5" fill="#ffffff" textLength="97.1" lengthAdjust="spacingAndGlyphs">1882.963</text><text x="1391.8" y="1252.7" font-size="25" fill="#131722" textLength="39.1" lengthAdjust="spacingAndGlyphs">Dec</text><text x="1594.3" y="1252.7" font-size="25" fill="#131722" font-weight="bold" textLength="48.9" lengthAdjust="spacingAndGlyphs">2022</text><text x="1794.6" y="1252.7" font-size="25" fill="#131722" textLength="37.9" lengthAdjust="spacingAndGlyphs">Feb</text><text x="1982.3" y="1252.7" font-size="25" fill="#131722" textLength="37.9" lengthAdjust="spacingAndGlyphs">Mar</text><text x="2201.0" y="1252.7" font-size="25" fill="#131722" textLength="34.2" lengthAdjust="spacingAndGlyphs">Apr</text><text x="2393.3" y="1252.7" font-size="25" fill="#131722" textLength="41.6" lengthAdjust="spacingAndGlyphs">May</text><text x="1377.1" y="707.0" font-size="25" fill="#131722" textLength="296.3" lengthAdjust="spacingAndGlyphs">Gold Spot / U.S. Dollar, 1D,</text><text x="1376.0" y="740.6" font-size="25" fill="#131722" textLength="99.1" lengthAdjust="spacingAndGlyphs">Ichimoku</text><text x="1769.3" y="707.0" font-size="25" fill="#388e3c" textLength="170.4" lengthAdjust="spacingAndGlyphs">+0.860 (+0.04%)</text>
</svg>
</body></html>
